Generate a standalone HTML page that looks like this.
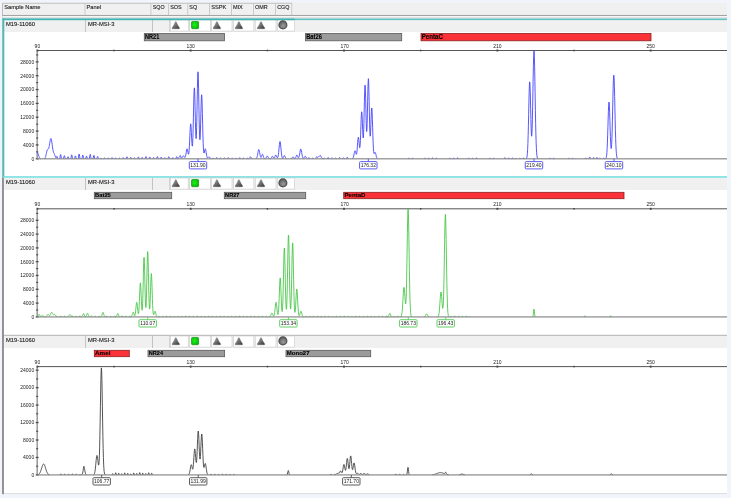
<!DOCTYPE html>
<html><head><meta charset="utf-8"><title>Electropherogram</title>
<style>html,body{margin:0;padding:0;background:#f1f4fa;}svg{display:block;filter:blur(0.35px)}</style></head>
<body>
<svg width="731" height="498" viewBox="0 0 731 498">
<defs>
<linearGradient id="tg" x1="0.1" y1="0.1" x2="0.9" y2="1"><stop offset="0" stop-color="#a2a2a2"/><stop offset="0.45" stop-color="#727272"/><stop offset="1" stop-color="#383838"/></linearGradient>
<radialGradient id="gg" cx="0.42" cy="0.45" r="0.75"><stop offset="0" stop-color="#22f022"/><stop offset="0.55" stop-color="#0ccc0c"/><stop offset="1" stop-color="#0a9e0a"/></radialGradient>
<radialGradient id="cg" cx="0.55" cy="0.62" r="0.65"><stop offset="0" stop-color="#9c9c9c"/><stop offset="0.7" stop-color="#6a6a6a"/><stop offset="1" stop-color="#4a4a4a"/></radialGradient>
</defs>
<rect width="731" height="498" fill="#f1f4fa"/>
<rect x="2.5" y="3" width="724.5" height="490.5" fill="#fff"/>
<rect x="2.5" y="3" width="724.5" height="11.6" fill="#f0f0f0"/>
<rect x="2.5" y="2.8" width="289.5" height="0.8" fill="#b4b4b4"/>
<rect x="2.2" y="3" width="0.8" height="490" fill="#b0b0b0"/>
<rect x="2.5" y="14.9" width="724.5" height="1.1" fill="#909090"/>
<rect x="2.5" y="15.8" width="724.5" height="2.6" fill="#f6f6f6"/>
<rect x="84.6" y="3.4" width="0.8" height="11.5" fill="#c0c0c0"/>
<rect x="150.5" y="3.4" width="0.8" height="11.5" fill="#c0c0c0"/>
<rect x="168.0" y="3.4" width="0.8" height="11.5" fill="#c0c0c0"/>
<rect x="187.4" y="3.4" width="0.8" height="11.5" fill="#c0c0c0"/>
<rect x="209.2" y="3.4" width="0.8" height="11.5" fill="#c0c0c0"/>
<rect x="231.0" y="3.4" width="0.8" height="11.5" fill="#c0c0c0"/>
<rect x="253.1" y="3.4" width="0.8" height="11.5" fill="#c0c0c0"/>
<rect x="275.0" y="3.4" width="0.8" height="11.5" fill="#c0c0c0"/>
<rect x="291.40000000000003" y="3.4" width="0.8" height="11.5" fill="#c0c0c0"/>
<text x="4.3" y="9.2" font-family="Liberation Sans, Arial, sans-serif" font-size="5.8" fill="#222" stroke="#222" stroke-width="0.12" textLength="36.2" lengthAdjust="spacingAndGlyphs">Sample Name</text>
<text x="86.5" y="9.2" font-family="Liberation Sans, Arial, sans-serif" font-size="5.8" fill="#222" stroke="#222" stroke-width="0.12" textLength="14.6" lengthAdjust="spacingAndGlyphs">Panel</text>
<text x="152.7" y="9.2" font-family="Liberation Sans, Arial, sans-serif" font-size="5.8" fill="#222" stroke="#222" stroke-width="0.12" textLength="11.9" lengthAdjust="spacingAndGlyphs">SQO</text>
<text x="170.2" y="9.2" font-family="Liberation Sans, Arial, sans-serif" font-size="5.8" fill="#222" stroke="#222" stroke-width="0.12" textLength="11.6" lengthAdjust="spacingAndGlyphs">SOS</text>
<text x="189.3" y="9.2" font-family="Liberation Sans, Arial, sans-serif" font-size="5.8" fill="#222" stroke="#222" stroke-width="0.12" textLength="7.8" lengthAdjust="spacingAndGlyphs">SQ</text>
<text x="211.2" y="9.2" font-family="Liberation Sans, Arial, sans-serif" font-size="5.8" fill="#222" stroke="#222" stroke-width="0.12" textLength="15.2" lengthAdjust="spacingAndGlyphs">SSPK</text>
<text x="232.9" y="9.2" font-family="Liberation Sans, Arial, sans-serif" font-size="5.8" fill="#222" stroke="#222" stroke-width="0.12" textLength="9.8" lengthAdjust="spacingAndGlyphs">MIX</text>
<text x="255.1" y="9.2" font-family="Liberation Sans, Arial, sans-serif" font-size="5.8" fill="#222" stroke="#222" stroke-width="0.12" textLength="12.7" lengthAdjust="spacingAndGlyphs">OMR</text>
<text x="277.2" y="9.2" font-family="Liberation Sans, Arial, sans-serif" font-size="5.8" fill="#222" stroke="#222" stroke-width="0.12" textLength="12.3" lengthAdjust="spacingAndGlyphs">CGQ</text>
<rect x="4" y="20" width="723.0" height="12" fill="#f0f0f0"/><text x="6" y="25.6" font-family="Liberation Sans, Arial, sans-serif" font-size="5.8" fill="#222" stroke="#222" stroke-width="0.12">M19-11060</text><text x="88" y="25.6" font-family="Liberation Sans, Arial, sans-serif" font-size="5.8" fill="#222" stroke="#222" stroke-width="0.12">MR-MSI-3</text><rect x="85.1" y="20" width="0.8" height="12" fill="#b8b8b8"/><rect x="152.0" y="20" width="0.8" height="12" fill="#b8b8b8"/><rect x="169.4" y="20" width="0.8" height="12" fill="#c4c4c4"/><rect x="170.4" y="20" width="17.8" height="11.1" fill="#fff" stroke="#c8c8c8" stroke-width="0.6"/><rect x="189.6" y="20" width="20.7" height="11.1" fill="#fff" stroke="#c8c8c8" stroke-width="0.6"/><rect x="211.5" y="20" width="20.5" height="11.1" fill="#fff" stroke="#c8c8c8" stroke-width="0.6"/><rect x="233.7" y="20" width="20.2" height="11.1" fill="#fff" stroke="#c8c8c8" stroke-width="0.6"/><rect x="255.2" y="20" width="20.8" height="11.1" fill="#fff" stroke="#c8c8c8" stroke-width="0.6"/><rect x="277.4" y="20" width="17.3" height="11.1" fill="#fff" stroke="#c8c8c8" stroke-width="0.6"/><path d="M175.35000000000002,21.900000000000002 Q175.8,21.25 176.25,21.900000000000002 Q177.70000000000002,25.6 179.55,28.0 Q179.75,28.8 178.9,28.8 L172.70000000000002,28.8 Q171.85000000000002,28.8 172.05,28.0 Q173.9,25.6 175.35000000000002,21.900000000000002 Z" fill="url(#tg)" stroke="#4c4c4c" stroke-width="0.35"/><rect x="191.55" y="21.45" width="7.0" height="7.25" rx="0.9" fill="url(#gg)" stroke="#1a9a1a" stroke-width="0.8"/><path d="M216.45000000000002,21.900000000000002 Q216.9,21.25 217.35,21.900000000000002 Q218.8,25.6 220.65,28.0 Q220.85,28.8 220.0,28.8 L213.8,28.8 Q212.95000000000002,28.8 213.15,28.0 Q215.0,25.6 216.45000000000002,21.900000000000002 Z" fill="url(#tg)" stroke="#4c4c4c" stroke-width="0.35"/><path d="M238.45000000000002,21.900000000000002 Q238.9,21.25 239.35,21.900000000000002 Q240.8,25.6 242.65,28.0 Q242.85,28.8 242.0,28.8 L235.8,28.8 Q234.95000000000002,28.8 235.15,28.0 Q237.0,25.6 238.45000000000002,21.900000000000002 Z" fill="url(#tg)" stroke="#4c4c4c" stroke-width="0.35"/><path d="M260.55,21.900000000000002 Q261.0,21.25 261.45,21.900000000000002 Q262.9,25.6 264.75,28.0 Q264.95,28.8 264.1,28.8 L257.9,28.8 Q257.05,28.8 257.25,28.0 Q259.1,25.6 260.55,21.900000000000002 Z" fill="url(#tg)" stroke="#4c4c4c" stroke-width="0.35"/><circle cx="282.9" cy="24.9" r="4.0" fill="url(#cg)" stroke="#4e4e4e" stroke-width="1.1"/>
<rect x="144.3" y="33.5" width="80.1" height="7.3" fill="#9b9b9b" stroke="#5a5a5a" stroke-width="0.8"/><text x="145.1" y="39.15" font-family="Liberation Sans, Arial, sans-serif" font-size="6.79" font-weight="bold" fill="#000" stroke="#000" stroke-width="0.1" textLength="14.2" lengthAdjust="spacingAndGlyphs">NR21</text>
<rect x="305.4" y="33.5" width="96.3" height="7.3" fill="#9b9b9b" stroke="#5a5a5a" stroke-width="0.8"/><text x="306.2" y="39.15" font-family="Liberation Sans, Arial, sans-serif" font-size="6.79" font-weight="bold" fill="#000" stroke="#000" stroke-width="0.1" textLength="15.7" lengthAdjust="spacingAndGlyphs">Bat26</text>
<rect x="421.0" y="33.5" width="230.0" height="7.3" fill="#fb3238" stroke="#8e2020" stroke-width="0.8"/><text x="421.8" y="39.15" font-family="Liberation Sans, Arial, sans-serif" font-size="6.79" font-weight="bold" fill="#000" stroke="#000" stroke-width="0.1" textLength="21.0" lengthAdjust="spacingAndGlyphs">PentaC</text>
<rect x="37" y="50.0" width="690.0" height="1" fill="#555"/><rect x="36.5" y="49.5" width="1.8" height="2" fill="#444"/><text x="37.4" y="47.6" text-anchor="middle" font-family="Liberation Sans, Arial, sans-serif" font-size="5" fill="#222">90</text><rect x="189.8" y="49.5" width="1.8" height="2" fill="#444"/><text x="190.7" y="47.6" text-anchor="middle" font-family="Liberation Sans, Arial, sans-serif" font-size="5" fill="#222">130</text><rect x="343.1" y="49.5" width="1.8" height="2" fill="#444"/><text x="344.6" y="47.6" text-anchor="middle" font-family="Liberation Sans, Arial, sans-serif" font-size="5" fill="#222">170</text><rect x="496.5" y="49.5" width="1.8" height="2" fill="#444"/><text x="497.4" y="47.6" text-anchor="middle" font-family="Liberation Sans, Arial, sans-serif" font-size="5" fill="#222">210</text><rect x="649.8" y="49.5" width="1.8" height="2" fill="#444"/><text x="650.7" y="47.6" text-anchor="middle" font-family="Liberation Sans, Arial, sans-serif" font-size="5" fill="#222">250</text><rect x="113.4" y="49.7" width="1.4" height="1.6" fill="#444"/><rect x="266.7" y="49.7" width="1.4" height="1.6" fill="#444"/><rect x="420.0" y="49.7" width="1.4" height="1.6" fill="#444"/><rect x="573.3" y="49.7" width="1.4" height="1.6" fill="#444"/>
<rect x="36.65" y="50.5" width="0.95" height="108.30000000000001" fill="#5e5e5e"/><rect x="35.75" y="158.15" width="2.8" height="1.3" fill="#4a4a4a"/><text x="34.2" y="160.6" text-anchor="end" font-family="Liberation Sans, Arial, sans-serif" font-size="5" fill="#222">0</text><rect x="36.1" y="151.32" width="2.1" height="1.1" fill="#4a4a4a"/><rect x="35.75" y="144.30" width="2.8" height="1.3" fill="#4a4a4a"/><text x="34.2" y="146.8" text-anchor="end" font-family="Liberation Sans, Arial, sans-serif" font-size="5" fill="#222">4000</text><rect x="36.1" y="137.47" width="2.1" height="1.1" fill="#4a4a4a"/><rect x="35.75" y="130.45" width="2.8" height="1.3" fill="#4a4a4a"/><text x="34.2" y="132.9" text-anchor="end" font-family="Liberation Sans, Arial, sans-serif" font-size="5" fill="#222">8000</text><rect x="36.1" y="123.63" width="2.1" height="1.1" fill="#4a4a4a"/><rect x="35.75" y="116.60" width="2.8" height="1.3" fill="#4a4a4a"/><text x="34.2" y="119.1" text-anchor="end" font-family="Liberation Sans, Arial, sans-serif" font-size="5" fill="#222">12000</text><rect x="36.1" y="109.78" width="2.1" height="1.1" fill="#4a4a4a"/><rect x="35.75" y="102.75" width="2.8" height="1.3" fill="#4a4a4a"/><text x="34.2" y="105.2" text-anchor="end" font-family="Liberation Sans, Arial, sans-serif" font-size="5" fill="#222">16000</text><rect x="36.1" y="95.93" width="2.1" height="1.1" fill="#4a4a4a"/><rect x="35.75" y="88.90" width="2.8" height="1.3" fill="#4a4a4a"/><text x="34.2" y="91.4" text-anchor="end" font-family="Liberation Sans, Arial, sans-serif" font-size="5" fill="#222">20000</text><rect x="36.1" y="82.08" width="2.1" height="1.1" fill="#4a4a4a"/><rect x="35.75" y="75.05" width="2.8" height="1.3" fill="#4a4a4a"/><text x="34.2" y="77.5" text-anchor="end" font-family="Liberation Sans, Arial, sans-serif" font-size="5" fill="#222">24000</text><rect x="36.1" y="68.23" width="2.1" height="1.1" fill="#4a4a4a"/><rect x="35.75" y="61.20" width="2.8" height="1.3" fill="#4a4a4a"/><text x="34.2" y="63.7" text-anchor="end" font-family="Liberation Sans, Arial, sans-serif" font-size="5" fill="#222">28000</text><rect x="36.1" y="54.38" width="2.1" height="1.1" fill="#4a4a4a"/>
<path d="M37.40,152.12 L37.65,152.62 L37.90,153.29 L38.15,154.07 L38.40,154.88 L38.65,155.67 L38.90,156.39 L39.15,157.02 L39.40,157.53 L39.65,157.92 L39.90,158.22 L40.15,158.43 L40.40,158.57 L40.65,158.66 M44.15,158.70 L44.40,158.61 L44.65,158.45 L44.90,158.19 L45.15,157.80 L45.40,157.25 L45.65,156.51 L45.90,155.59 L46.15,154.51 L46.40,153.34 L46.65,152.18 L46.90,151.13 L47.15,150.29 L47.40,149.70 L47.65,149.36 L47.90,149.20 L48.15,149.10 L48.40,148.92 L48.65,148.52 L48.90,147.80 L49.15,146.74 L49.40,145.38 L49.65,143.81 L49.90,142.19 L50.15,140.69 L50.40,139.48 L50.65,138.69 L50.90,138.44 L51.15,138.75 L51.40,139.61 L51.65,140.93 L51.90,142.60 L52.15,144.45 L52.40,146.34 L52.65,148.10 L52.90,149.65 L53.15,150.90 L53.40,151.87 L53.65,152.61 L53.90,153.18 L54.15,153.69 L54.40,154.22 L54.65,154.79 L54.90,155.42 L55.15,156.08 L55.40,156.72 L55.65,157.30 L55.90,157.77 L56.15,157.84 L56.40,157.23 L56.65,156.60 L56.90,156.34 L57.15,156.65 L57.40,157.42 L57.65,158.34 L57.90,158.79 M59.65,158.80 L59.90,157.99 L60.15,156.36 L60.40,155.02 L60.65,154.57 L60.90,155.23 L61.15,156.69 L61.40,158.26 L61.65,158.80 M63.40,158.80 L63.65,157.96 L63.90,156.74 L64.15,155.84 L64.40,155.67 L64.65,156.31 L64.90,157.47 L65.15,158.58 L65.40,158.80 M67.15,158.75 L67.40,158.09 L67.65,157.29 L67.90,156.77 L68.15,156.77 L68.40,157.29 L68.65,158.09 L68.90,158.75 M70.65,158.80 L70.90,158.52 L71.15,157.13 L71.40,155.67 L71.65,154.86 L71.90,155.07 L72.15,156.21 L72.40,157.75 L72.65,158.80 M74.40,158.80 L74.65,158.43 L74.90,157.35 L75.15,156.34 L75.40,155.88 L75.65,156.19 L75.90,157.12 L76.15,158.24 L76.40,158.80 M78.15,158.80 L78.40,157.87 L78.65,156.03 L78.90,154.50 L79.15,153.99 L79.40,154.74 L79.65,156.40 L79.90,158.19 L80.15,158.80 M81.90,158.80 L82.15,157.81 L82.40,156.37 L82.65,155.30 L82.90,155.10 L83.15,155.86 L83.40,157.23 L83.65,158.54 L83.90,158.80 M85.65,158.73 L85.90,157.89 L86.15,156.87 L86.40,156.21 L86.65,156.21 L86.90,156.87 L87.15,157.89 L87.40,158.73 M89.15,158.80 L89.40,158.48 L89.65,156.89 L89.90,155.21 L90.15,154.29 L90.40,154.53 L90.65,155.83 L90.90,157.59 L91.15,158.80 M92.90,158.80 L93.15,158.36 L93.40,157.06 L93.65,155.85 L93.90,155.30 L94.15,155.67 L94.40,156.79 L94.65,158.13 L94.90,158.80 M96.65,158.80 L96.90,158.33 L97.15,157.40 L97.40,156.63 L97.65,156.37 L97.90,156.75 L98.15,157.59 L98.40,158.49 L98.65,158.80 M100.15,158.73 L100.40,158.54 L100.65,158.36 L100.90,158.28 L101.15,158.33 L101.40,158.50 L101.65,158.70 M103.65,158.80 L103.90,158.61 L104.15,158.23 L104.40,157.92 L104.65,157.82 L104.90,157.97 L105.15,158.31 L105.40,158.68 M107.40,158.80 L107.65,158.61 L107.90,158.33 L108.15,158.12 L108.40,158.08 L108.65,158.23 L108.90,158.50 L109.15,158.75 M111.15,158.77 L111.40,158.40 L111.65,157.95 L111.90,157.65 L112.15,157.65 L112.40,157.95 L112.65,158.40 L112.90,158.77 M114.90,158.74 L115.15,158.41 L115.40,158.07 L115.65,157.89 L115.90,157.93 L116.15,158.20 L116.40,158.56 L116.65,158.80 M118.65,158.72 L118.90,158.47 L119.15,158.24 L119.40,158.14 L119.65,158.20 L119.90,158.42 L120.15,158.67 M122.15,158.80 L122.40,158.58 L122.65,158.15 L122.90,157.79 L123.15,157.68 L123.40,157.85 L123.65,158.24 L123.90,158.66 M125.90,158.80 L126.15,158.55 L126.40,157.82 L126.65,157.11 L126.90,156.77 L127.15,156.92 L127.40,157.51 L127.65,158.28 L127.90,158.80 M129.90,158.70 L130.15,158.18 L130.40,157.63 L130.65,157.31 L130.90,157.34 L131.15,157.73 L131.40,158.30 L131.65,158.76 M133.65,158.78 L133.90,158.47 L134.15,158.10 L134.40,157.84 L134.65,157.82 L134.90,158.03 L135.15,158.39 L135.40,158.73 M137.40,158.80 L137.65,158.31 L137.90,157.59 L138.15,157.03 L138.40,156.88 L138.65,157.21 L138.90,157.87 L139.15,158.57 L139.40,158.80 M141.15,158.80 L141.40,158.54 L141.65,158.02 L141.90,157.57 L142.15,157.39 L142.40,157.57 L142.65,158.02 L142.90,158.54 L143.15,158.80 M144.90,158.80 L145.15,158.52 L145.40,157.68 L145.65,156.88 L145.90,156.49 L146.15,156.66 L146.40,157.33 L146.65,158.21 L146.90,158.80 M148.90,158.68 L149.15,158.07 L149.40,157.42 L149.65,157.03 L149.90,157.08 L150.15,157.53 L150.40,158.21 L150.65,158.76 M152.65,158.77 L152.90,158.38 L153.15,157.90 L153.40,157.57 L153.65,157.54 L153.90,157.81 L154.15,158.28 L154.40,158.71 M156.40,158.80 L156.65,158.24 L156.90,157.41 L157.15,156.77 L157.40,156.60 L157.65,156.98 L157.90,157.74 L158.15,158.53 L158.40,158.80 M160.15,158.80 L160.40,158.49 L160.65,157.86 L160.90,157.32 L161.15,157.11 L161.40,157.32 L161.65,157.86 L161.90,158.49 L162.15,158.80 M164.15,158.66 L164.40,158.24 L164.65,157.84 L164.90,157.64 L165.15,157.73 L165.40,158.06 L165.65,158.50 L165.90,158.80 M167.90,158.66 L168.15,157.96 L168.40,157.20 L168.65,156.75 L168.90,156.81 L169.15,157.34 L169.40,158.11 L169.65,158.75 M171.65,158.76 L171.90,158.28 L172.15,158.65 L172.40,158.23 L172.65,157.83 L172.90,157.65 L173.15,157.77 L173.40,158.14 L173.65,158.58 L173.90,158.80 M175.65,158.80 L175.90,158.38 L176.15,157.55 L176.40,156.86 L176.65,156.63 L176.90,156.95 L177.15,157.69 L177.40,158.46 L177.65,158.67 L177.90,158.56 L178.15,158.39 L178.40,158.15 L178.65,157.85 L178.90,157.52 L179.15,157.20 L179.40,156.95 L179.65,156.39 L179.90,155.79 L180.15,155.49 L180.40,155.67 L180.65,156.31 L180.90,157.18 L181.15,157.96 L181.40,158.17 L181.65,158.13 L181.90,157.94 L182.15,157.60 L182.40,157.16 L182.65,156.67 L182.90,156.22 L183.15,155.91 L183.40,155.80 L183.65,155.91 L183.90,156.21 L184.15,156.62 L184.40,157.05 L184.65,157.37 L184.90,157.48 L185.15,157.27 L185.40,156.68 L185.65,155.69 L185.90,154.32 L186.15,152.71 L186.40,151.08 L186.65,149.73 L186.90,148.93 L187.15,148.85 L187.40,149.49 L187.65,150.68 L187.90,152.12 L188.15,153.43 L188.40,154.22 L188.65,154.13 L188.90,152.85 L189.15,150.20 L189.40,146.14 L189.65,140.92 L189.90,135.16 L190.15,129.73 L190.40,125.68 L190.65,123.84 L190.90,124.61 L191.15,127.78 L191.40,132.61 L191.65,137.96 L191.90,142.66 L192.15,145.66 L192.40,146.13 L192.65,143.53 L192.90,137.64 L193.15,128.75 L193.40,117.74 L193.65,106.17 L193.90,96.08 L194.15,89.50 L194.40,87.87 L194.65,91.55 L194.90,99.66 L195.15,110.39 L195.40,121.50 L195.65,130.89 L195.90,136.94 L196.15,138.61 L196.40,135.48 L196.65,127.68 L196.90,116.06 L197.15,102.22 L197.40,88.51 L197.65,77.58 L197.90,71.80 L198.15,72.46 L198.40,79.43 L198.65,91.14 L198.90,105.13 L199.15,118.77 L199.40,129.89 L199.65,137.08 L199.90,139.71 L200.15,137.80 L200.40,131.91 L200.65,123.13 L200.90,113.09 L201.15,103.76 L201.40,97.15 L201.65,94.77 L201.90,97.21 L202.15,103.93 L202.40,113.52 L202.65,124.15 L202.90,134.12 L203.15,142.26 L203.40,148.06 L203.65,151.52 L203.90,153.01 L204.15,153.03 L204.40,152.13 L204.65,150.85 L204.90,149.65 L205.15,148.90 L205.40,148.85 L205.65,149.52 L205.90,150.79 L206.15,152.38 L206.40,154.03 L206.65,155.48 L206.90,156.59 L207.15,157.32 L207.40,157.69 L207.65,157.76 L207.90,157.63 L208.15,157.39 L208.40,157.11 L208.65,156.90 L208.90,156.80 L209.15,156.85 L209.40,157.03 L209.65,157.32 L209.90,157.65 L210.15,157.98 L210.40,158.25 L210.65,158.46 L210.90,158.61 L211.15,158.70 M212.15,158.71 L212.40,158.44 L212.65,158.19 L212.90,158.06 L213.15,158.11 L213.40,158.32 L213.65,158.60 L213.90,158.80 M215.90,158.75 L216.15,158.35 L216.40,157.89 L216.65,157.59 L216.90,157.57 L217.15,157.85 L217.40,158.31 L217.65,158.72 M219.65,158.80 L219.90,158.57 L220.15,158.21 L220.40,157.92 L220.65,157.83 L220.90,157.98 L221.15,158.30 L221.40,158.65 M223.65,158.71 L223.90,158.46 L224.15,158.23 L224.40,158.12 L224.65,158.17 L224.90,158.37 L225.15,158.62 M227.40,158.74 L227.65,158.36 L227.90,157.92 L228.15,157.65 L228.40,157.64 L228.65,157.92 L228.90,158.35 L229.15,158.74 M231.15,158.80 L231.40,158.57 L231.65,158.23 L231.90,157.97 L232.15,157.90 L232.40,158.04 L232.65,158.35 L232.90,158.67 M235.15,158.71 L235.40,158.49 L235.65,158.28 L235.90,158.19 L236.15,158.24 L236.40,158.42 L236.65,158.65 M238.90,158.74 L239.15,158.37 L239.40,157.96 L239.65,157.70 L239.90,157.71 L240.15,157.98 L240.40,158.39 L240.65,158.75 M242.65,158.80 L242.90,158.58 L243.15,158.26 L243.40,158.03 L243.65,157.97 L243.90,158.11 L244.15,158.39 L244.40,158.69 M246.65,158.71 L246.90,158.51 L247.15,158.33 L247.40,158.25 L247.65,158.30 L247.90,158.47 L248.15,158.67 M248.90,158.65 L249.15,158.49 L249.40,158.22 L249.65,157.84 L249.90,157.41 L250.15,157.04 L250.40,156.82 L250.65,156.85 L250.90,157.10 L251.15,157.50 L251.40,157.92 L251.65,158.28 L251.90,158.53 L252.15,158.68 M255.90,158.71 L256.15,158.61 L256.40,158.42 L256.65,158.08 L256.90,157.54 L257.15,156.74 L257.40,155.66 L257.65,154.33 L257.90,152.86 L258.15,151.44 L258.40,150.29 L258.65,149.62 L258.90,149.55 L259.15,150.11 L259.40,151.18 L259.65,152.56 L259.90,154.02 L260.15,155.35 L260.40,156.40 L260.65,157.09 L260.90,157.38 L261.15,157.28 L261.40,156.83 L261.65,156.14 L261.90,155.36 L262.15,154.69 L262.40,154.33 L262.65,154.38 L262.90,154.83 L263.15,155.56 L263.40,156.41 L263.65,157.20 L263.90,157.83 L264.15,158.26 L264.40,158.53 L264.65,158.67 M265.40,158.63 L265.65,158.46 L265.90,158.19 L266.15,157.80 L266.40,157.31 L266.65,156.79 L266.90,156.33 L267.15,156.05 L267.40,156.02 L267.65,156.26 L267.90,156.69 L268.15,157.21 L268.40,157.71 L268.65,158.13 L268.90,158.42 L269.15,158.61 L269.40,158.71 M270.40,158.69 L270.65,158.57 L270.90,158.37 L271.15,158.06 L271.40,157.66 L271.65,157.19 L271.90,156.74 L272.15,156.42 L272.40,156.30 L272.65,156.42 L272.90,156.74 L273.15,157.17 L273.40,157.61 L273.65,157.96 L273.90,158.14 L274.15,158.12 L274.40,157.87 L274.65,157.40 L274.90,156.76 L275.15,156.06 L275.40,155.44 L275.65,155.07 L275.90,155.03 L276.15,155.34 L276.40,155.92 L276.65,156.60 L276.90,157.24 L277.15,157.69 L277.40,157.87 L277.65,157.72 L277.90,157.17 L278.15,156.14 L278.40,154.57 L278.65,152.45 L278.90,149.90 L279.15,147.14 L279.40,144.55 L279.65,142.54 L279.90,141.50 L280.15,141.62 L280.40,142.88 L280.65,145.03 L280.90,147.69 L281.15,150.44 L281.40,152.92 L281.65,154.94 L281.90,156.42 L282.15,157.39 L282.40,157.94 L282.65,158.14 L282.90,158.07 L283.15,157.76 L283.40,157.26 L283.65,156.66 L283.90,156.08 L284.15,155.66 L284.40,155.50 L284.65,155.66 L284.90,156.09 L285.15,156.67 L285.40,157.29 L285.65,157.83 L285.90,158.23 L286.15,158.50 L286.40,158.66 M291.15,158.66 L291.40,158.53 L291.65,158.32 L291.90,158.02 L292.15,157.66 L292.40,157.29 L292.65,156.98 L292.90,156.82 L293.15,156.83 L293.40,157.03 L293.65,157.36 L293.90,157.73 L294.15,158.08 L294.40,158.34 L294.65,158.49 L294.90,158.51 L295.15,158.40 L295.40,158.12 L295.65,157.67 L295.90,157.06 L296.15,156.35 L296.40,155.67 L296.65,155.18 L296.90,155.00 L297.15,155.17 L297.40,155.66 L297.65,156.31 L297.90,156.97 L298.15,157.48 L298.40,157.74 L298.65,157.70 L298.90,157.31 L299.15,156.56 L299.40,155.46 L299.65,154.08 L299.90,152.54 L300.15,151.04 L300.40,149.83 L300.65,149.12 L300.90,149.05 L301.15,149.64 L301.40,150.77 L301.65,152.23 L301.90,153.79 L302.15,155.23 L302.40,156.42 L302.65,157.31 L302.90,157.91 L303.15,158.25 L303.40,158.37 L303.65,158.31 L303.90,158.08 L304.15,157.72 L304.40,157.28 L304.65,156.82 L304.90,156.47 L305.15,156.30 L305.40,156.38 L305.65,156.67 L305.90,157.10 L306.15,157.56 L306.40,157.99 L306.65,158.32 L306.90,158.54 L307.15,158.67 M308.15,158.65 L308.40,158.23 L308.65,157.81 L308.90,157.60 L309.15,157.68 L309.40,158.02 L309.65,158.47 L309.90,158.80 M311.90,158.77 L312.15,158.50 L312.40,158.18 L312.65,157.97 L312.90,157.96 L313.15,158.15 L313.40,158.46 L313.65,158.74 M315.65,158.63 L315.90,158.21 L316.15,157.57 L316.40,157.02 L316.65,156.74 L316.90,156.79 L317.15,157.08 L317.40,157.39 L317.65,157.37 L317.90,157.12 L318.15,156.88 L318.40,156.66 L318.65,156.47 L318.90,156.32 L319.15,156.23 L319.40,156.20 L319.65,156.08 L319.90,155.77 L320.15,155.54 L320.40,155.54 L320.65,155.85 L320.90,156.41 L321.15,157.08 L321.40,157.61 L321.65,157.83 L321.90,158.03 L322.15,158.21 L322.40,158.35 L322.65,158.47 L322.90,158.56 L323.15,158.63 L323.40,158.65 L323.65,158.44 L323.90,158.18 L324.15,158.01 L324.40,158.02 L324.65,158.21 L324.90,158.50 L325.15,158.76 M327.15,158.80 L327.40,158.45 L327.65,157.93 L327.90,157.53 L328.15,157.41 L328.40,157.64 L328.65,158.10 L328.90,158.61 L329.15,158.80 M331.15,158.65 L331.40,158.27 L331.65,157.92 L331.90,157.76 L332.15,157.85 L332.40,158.15 L332.65,158.54 L332.90,158.80 M334.90,158.76 L335.15,158.53 L335.40,158.28 L335.65,158.12 L335.90,158.12 L336.15,158.29 L336.40,158.55 L336.65,158.77 M338.65,158.80 L338.90,158.45 L339.15,157.96 L339.40,157.59 L339.65,157.49 L339.90,157.72 L340.15,158.16 L340.40,158.63 M342.65,158.65 L342.90,158.30 L343.15,157.98 L343.40,157.83 L343.65,157.93 L343.90,158.22 L344.15,158.58 L344.40,158.80 M346.40,158.70 L346.65,158.17 L346.90,157.60 L347.15,157.26 L347.40,157.28 L347.65,157.67 L347.90,158.25 L348.15,158.75 M352.40,158.68 L352.65,158.54 L352.90,158.27 L353.15,157.83 L353.40,157.15 L353.65,156.20 L353.90,155.01 L354.15,153.68 L354.40,152.39 L354.65,151.38 L354.90,150.84 L355.15,150.87 L355.40,151.45 L355.65,152.40 L355.90,153.42 L356.15,154.17 L356.40,154.35 L356.65,153.68 L356.90,152.04 L357.15,149.46 L357.40,146.20 L357.65,142.73 L357.90,139.69 L358.15,137.69 L358.40,137.17 L358.65,138.21 L358.90,140.51 L359.15,143.40 L359.40,146.07 L359.65,147.68 L359.90,147.54 L360.15,145.21 L360.40,140.63 L360.65,134.18 L360.90,126.75 L361.15,119.63 L361.40,114.25 L361.65,111.79 L361.90,112.78 L362.15,116.91 L362.40,123.10 L362.65,129.76 L362.90,135.21 L363.15,137.99 L363.40,137.12 L363.65,132.24 L363.90,123.72 L364.15,112.76 L364.40,101.26 L364.65,91.53 L364.90,85.69 L365.15,85.11 L365.40,89.87 L365.65,98.79 L365.90,109.74 L366.15,120.22 L366.40,128.00 L366.65,131.48 L366.90,129.90 L367.15,123.44 L367.40,113.20 L367.65,101.13 L367.90,89.74 L368.15,81.61 L368.40,78.68 L368.65,81.67 L368.90,89.89 L369.15,101.48 L369.40,113.96 L369.65,124.95 L369.90,132.69 L370.15,136.22 L370.40,135.47 L370.65,131.12 L370.90,124.46 L371.15,117.21 L371.40,111.20 L371.65,107.99 L371.90,108.45 L372.15,112.55 L372.40,119.43 L372.65,127.71 L372.90,135.93 L373.15,142.98 L373.40,148.23 L373.65,151.56 L373.90,153.23 L374.15,153.68 L374.40,153.40 L374.65,152.87 L374.90,152.44 L375.15,152.37 L375.40,152.73 L375.65,153.49 L375.90,154.49 L376.15,155.56 L376.40,156.55 L376.65,157.35 L376.90,157.93 L377.15,158.32 L377.40,158.56 L377.65,158.68 M408.15,158.70 L408.40,158.40 L408.65,158.12 L408.90,157.97 L409.15,158.04 L409.40,158.28 L409.65,158.59 L409.90,158.80 M411.90,158.76 L412.15,158.56 L412.40,158.34 L412.65,158.21 L412.90,158.23 L413.15,158.80 M424.15,158.70 L424.40,158.39 L424.65,158.10 L424.90,157.95 L425.15,158.02 L425.40,158.26 L425.65,158.58 L425.90,158.80 M427.90,158.76 L428.15,158.56 L428.40,158.35 L428.65,158.22 L428.90,158.24 L429.15,158.39 L429.40,158.61 L429.65,158.79 M431.65,158.78 L431.90,158.45 L432.15,158.06 L432.40,157.80 L432.65,157.77 L432.90,157.99 L433.15,158.37 L433.40,158.73 M435.40,158.80 L435.65,158.60 L435.90,158.30 L436.15,158.07 L436.40,158.01 L436.65,158.15 L436.90,158.42 L437.15,158.70 M449.15,158.70 L449.40,158.39 L449.65,158.09 L449.90,157.95 L450.15,158.01 L450.40,158.26 L450.65,158.58 L450.90,158.80 M452.90,158.76 L453.15,158.56 L453.40,158.34 L453.65,158.21 L453.90,158.23 L454.15,158.38 L454.40,158.60 L454.65,158.79 M456.65,158.77 L456.90,158.45 L457.15,158.06 L457.40,157.79 L457.65,157.76 L457.90,157.99 L458.15,158.37 L458.40,158.73 M468.15,158.71 L468.40,158.45 L468.65,158.21 L468.90,158.09 L469.15,158.14 L469.40,158.35 L469.65,158.62 L469.90,158.80 M471.90,158.77 L472.15,158.60 L472.40,158.43 L472.65,158.32 L472.90,158.34 L473.15,158.46 L473.40,158.64 M475.65,158.78 L475.90,158.51 L476.15,158.17 L476.40,157.95 L476.65,157.92 L476.90,158.11 L477.15,158.44 L477.40,158.74 M489.15,158.70 L489.40,158.42 L489.65,158.15 L489.90,158.01 L490.15,158.07 L490.40,158.30 L490.65,158.60 L490.90,158.80 M492.90,158.76 L493.15,158.56 L493.40,158.35 L493.65,158.22 L493.90,158.24 L494.15,158.80 M504.15,158.66 L504.40,158.24 L504.65,157.84 L504.90,157.64 L505.15,157.73 L505.40,158.07 L505.65,158.50 L505.90,158.80 M507.90,158.74 L508.15,158.43 L508.40,158.11 L508.65,157.92 L508.90,157.94 L509.15,158.17 L509.40,158.50 L509.65,158.78 M511.65,158.78 L511.90,158.59 L512.15,158.35 L512.40,158.19 L512.65,158.17 L512.90,158.31 L513.15,158.54 L513.40,158.76 M515.40,158.80 L515.65,158.52 L515.90,158.10 L516.15,158.80 M519.15,158.74 L519.40,158.55 L519.65,158.37 L519.90,158.28 L520.15,158.32 L520.40,158.47 L520.65,158.67 M522.90,158.74 L523.15,158.42 L523.40,158.08 L523.65,157.88 L523.90,157.91 L524.15,158.80 M526.15,158.66 L526.40,158.47 L526.65,158.06 L526.90,157.27 L527.15,155.82 L527.40,153.33 L527.65,149.38 L527.90,143.56 L528.15,135.64 L528.40,125.72 L528.65,114.43 L528.90,102.88 L529.15,92.60 L529.40,85.17 L529.65,81.85 L529.90,83.22 L530.15,88.98 L530.40,98.02 L530.65,108.71 L530.90,119.28 L531.15,128.11 L531.40,134.01 L531.65,136.23 L531.90,134.43 L532.15,128.62 L532.40,119.15 L532.65,106.76 L532.90,92.59 L533.15,78.18 L533.40,65.30 L533.65,55.72 L533.90,50.84 L534.15,51.40 L534.40,57.33 L534.65,67.76 L534.90,81.23 L535.15,96.04 L535.40,110.57 L535.65,123.61 L535.90,134.41 L536.15,142.75 L536.40,148.77 L536.65,152.85 L536.90,155.44 L537.15,157.00 L537.40,157.89 L537.65,158.36 L537.90,158.60 L538.15,158.71 M549.15,158.70 L549.40,158.42 L549.65,158.15 L549.90,158.01 L550.15,158.07 L550.40,158.30 L550.65,158.60 L550.90,158.80 M552.90,158.76 L553.15,158.57 L553.40,158.37 L553.65,158.25 L553.90,158.27 L554.15,158.41 L554.40,158.62 L554.65,158.79 M568.15,158.71 L568.40,158.44 L568.65,158.19 L568.90,158.06 L569.15,158.12 L569.40,158.33 L569.65,158.61 L569.90,158.80 M571.90,158.77 L572.15,158.59 L572.40,158.41 L572.65,158.30 L572.90,158.31 L573.15,158.44 L573.40,158.63 M575.65,158.78 L575.90,158.50 L576.15,158.80 M585.15,158.69 L585.40,158.35 L585.65,158.03 L585.90,157.87 L586.15,157.94 L586.40,158.21 L586.65,158.56 L586.90,158.80 M588.90,158.68 L589.15,158.09 L589.40,157.46 L589.65,157.08 L589.90,157.13 L590.15,157.57 L590.40,158.23 L590.65,158.76 M592.65,158.77 L592.90,158.38 L593.15,157.90 L593.40,157.57 L593.65,157.54 L593.90,157.81 L594.15,158.28 L594.40,158.71 M596.40,158.80 L596.65,158.26 L596.90,157.47 L597.15,158.80 M599.15,158.70 L599.40,158.41 L599.65,158.14 L599.90,158.00 L600.15,158.06 L600.40,158.29 L600.65,158.60 L600.90,158.80 M602.90,158.76 L603.15,158.57 L603.40,158.36 L603.65,158.24 L603.90,158.25 L604.15,158.40 L604.40,158.61 L604.65,158.78 M605.40,158.71 L605.65,158.59 L605.90,158.33 L606.15,157.82 L606.40,156.86 L606.65,155.20 L606.90,152.52 L607.15,148.50 L607.40,142.95 L607.65,135.88 L607.90,127.67 L608.15,119.08 L608.40,111.19 L608.65,105.19 L608.90,102.08 L609.15,102.43 L609.40,106.15 L609.65,112.59 L609.90,120.63 L610.15,129.03 L610.40,136.70 L610.65,142.80 L610.90,146.82 L611.15,148.54 L611.40,147.83 L611.65,144.66 L611.90,139.05 L612.15,131.13 L612.40,121.25 L612.65,110.09 L612.90,98.67 L613.15,88.25 L613.40,80.17 L613.65,75.58 L613.90,75.15 L614.15,78.95 L614.40,86.41 L614.65,96.48 L614.90,107.85 L615.15,119.24 L615.40,129.64 L615.65,138.38 L615.90,145.22 L616.15,150.23 L616.40,153.66 L616.65,155.87 L616.90,157.22 L617.15,157.99 L617.40,158.40 L617.65,158.62 L617.90,158.72" fill="none" stroke="#4444ff" stroke-width="0.9" stroke-linejoin="round"/>
<rect x="37" y="158.25" width="690.0" height="1.15" fill="#858585"/>
<rect x="197.5" y="158.8" width="1" height="3" fill="#5c5cf0"/><rect x="189.3" y="161.6" width="17.4" height="7.3" rx="0.9" fill="#fff" stroke="#5c5cf0" stroke-width="1.0"/><text x="198.0" y="167.1" text-anchor="middle" font-family="Liberation Sans, Arial, sans-serif" font-size="5" fill="#222">131.90</text>
<rect x="367.8" y="158.8" width="1" height="3" fill="#5c5cf0"/><rect x="359.6" y="161.6" width="17.4" height="7.3" rx="0.9" fill="#fff" stroke="#5c5cf0" stroke-width="1.0"/><text x="368.3" y="167.1" text-anchor="middle" font-family="Liberation Sans, Arial, sans-serif" font-size="5" fill="#222">176.32</text>
<rect x="533.5" y="158.8" width="1" height="3" fill="#5c5cf0"/><rect x="525.3" y="161.6" width="17.4" height="7.3" rx="0.9" fill="#fff" stroke="#5c5cf0" stroke-width="1.0"/><text x="534.0" y="167.1" text-anchor="middle" font-family="Liberation Sans, Arial, sans-serif" font-size="5" fill="#222">219.40</text>
<rect x="613.5" y="158.8" width="1" height="3" fill="#5c5cf0"/><rect x="605.3" y="161.6" width="17.4" height="7.3" rx="0.9" fill="#fff" stroke="#5c5cf0" stroke-width="1.0"/><text x="614.0" y="167.1" text-anchor="middle" font-family="Liberation Sans, Arial, sans-serif" font-size="5" fill="#222">240.10</text>
<rect x="2.6" y="17.6" width="724.4" height="0.9" fill="#c4c8c8"/>
<rect x="2.6" y="18.6" width="724.4" height="1.5" fill="#5cc4c4"/>
<rect x="2.6" y="18.6" width="292" height="1.5" fill="#40b4b4"/>
<rect x="2.6" y="18.5" width="1.7" height="159" fill="#48bcbc"/>
<rect x="2.6" y="176.25" width="724.4" height="1.45" fill="#68dcdc"/>
<rect x="2.2" y="177.8" width="1.65" height="316.4" fill="#858585"/>
<rect x="4" y="178" width="723.0" height="12" fill="#f0f0f0"/><text x="6" y="183.6" font-family="Liberation Sans, Arial, sans-serif" font-size="5.8" fill="#222" stroke="#222" stroke-width="0.12">M19-11060</text><text x="88" y="183.6" font-family="Liberation Sans, Arial, sans-serif" font-size="5.8" fill="#222" stroke="#222" stroke-width="0.12">MR-MSI-3</text><rect x="85.1" y="178" width="0.8" height="12" fill="#b8b8b8"/><rect x="152.0" y="178" width="0.8" height="12" fill="#b8b8b8"/><rect x="169.4" y="178" width="0.8" height="12" fill="#c4c4c4"/><rect x="170.4" y="178" width="17.8" height="11.1" fill="#fff" stroke="#c8c8c8" stroke-width="0.6"/><rect x="189.6" y="178" width="20.7" height="11.1" fill="#fff" stroke="#c8c8c8" stroke-width="0.6"/><rect x="211.5" y="178" width="20.5" height="11.1" fill="#fff" stroke="#c8c8c8" stroke-width="0.6"/><rect x="233.7" y="178" width="20.2" height="11.1" fill="#fff" stroke="#c8c8c8" stroke-width="0.6"/><rect x="255.2" y="178" width="20.8" height="11.1" fill="#fff" stroke="#c8c8c8" stroke-width="0.6"/><rect x="277.4" y="178" width="17.3" height="11.1" fill="#fff" stroke="#c8c8c8" stroke-width="0.6"/><path d="M175.35000000000002,179.9 Q175.8,179.25 176.25,179.9 Q177.70000000000002,183.6 179.55,186.0 Q179.75,186.8 178.9,186.8 L172.70000000000002,186.8 Q171.85000000000002,186.8 172.05,186.0 Q173.9,183.6 175.35000000000002,179.9 Z" fill="url(#tg)" stroke="#4c4c4c" stroke-width="0.35"/><rect x="191.55" y="179.45000000000002" width="7.0" height="7.25" rx="0.9" fill="url(#gg)" stroke="#1a9a1a" stroke-width="0.8"/><path d="M216.45000000000002,179.9 Q216.9,179.25 217.35,179.9 Q218.8,183.6 220.65,186.0 Q220.85,186.8 220.0,186.8 L213.8,186.8 Q212.95000000000002,186.8 213.15,186.0 Q215.0,183.6 216.45000000000002,179.9 Z" fill="url(#tg)" stroke="#4c4c4c" stroke-width="0.35"/><path d="M238.45000000000002,179.9 Q238.9,179.25 239.35,179.9 Q240.8,183.6 242.65,186.0 Q242.85,186.8 242.0,186.8 L235.8,186.8 Q234.95000000000002,186.8 235.15,186.0 Q237.0,183.6 238.45000000000002,179.9 Z" fill="url(#tg)" stroke="#4c4c4c" stroke-width="0.35"/><path d="M260.55,179.9 Q261.0,179.25 261.45,179.9 Q262.9,183.6 264.75,186.0 Q264.95,186.8 264.1,186.8 L257.9,186.8 Q257.05,186.8 257.25,186.0 Q259.1,183.6 260.55,179.9 Z" fill="url(#tg)" stroke="#4c4c4c" stroke-width="0.35"/><circle cx="282.9" cy="182.9" r="4.0" fill="url(#cg)" stroke="#4e4e4e" stroke-width="1.1"/>
<rect x="94.3" y="192.3" width="77.4" height="6.4" fill="#9b9b9b" stroke="#5a5a5a" stroke-width="0.8"/><text x="95.1" y="197.35" font-family="Liberation Sans, Arial, sans-serif" font-size="5.95" font-weight="bold" fill="#000" stroke="#000" stroke-width="0.1" textLength="15.7" lengthAdjust="spacingAndGlyphs">Bat25</text>
<rect x="224.3" y="192.3" width="81.4" height="6.4" fill="#9b9b9b" stroke="#5a5a5a" stroke-width="0.8"/><text x="225.1" y="197.35" font-family="Liberation Sans, Arial, sans-serif" font-size="5.95" font-weight="bold" fill="#000" stroke="#000" stroke-width="0.1" textLength="14.3" lengthAdjust="spacingAndGlyphs">NR27</text>
<rect x="343.7" y="192.3" width="280.3" height="6.4" fill="#fb3238" stroke="#8e2020" stroke-width="0.8"/><text x="344.5" y="197.35" font-family="Liberation Sans, Arial, sans-serif" font-size="5.95" font-weight="bold" fill="#000" stroke="#000" stroke-width="0.1" textLength="21.0" lengthAdjust="spacingAndGlyphs">PentaD</text>
<rect x="37" y="208.3" width="690.0" height="1" fill="#555"/><rect x="36.5" y="207.8" width="1.8" height="2" fill="#444"/><text x="37.4" y="205.9" text-anchor="middle" font-family="Liberation Sans, Arial, sans-serif" font-size="5" fill="#222">90</text><rect x="189.8" y="207.8" width="1.8" height="2" fill="#444"/><text x="190.7" y="205.9" text-anchor="middle" font-family="Liberation Sans, Arial, sans-serif" font-size="5" fill="#222">130</text><rect x="343.1" y="207.8" width="1.8" height="2" fill="#444"/><text x="344.6" y="205.9" text-anchor="middle" font-family="Liberation Sans, Arial, sans-serif" font-size="5" fill="#222">170</text><rect x="496.5" y="207.8" width="1.8" height="2" fill="#444"/><text x="497.4" y="205.9" text-anchor="middle" font-family="Liberation Sans, Arial, sans-serif" font-size="5" fill="#222">210</text><rect x="649.8" y="207.8" width="1.8" height="2" fill="#444"/><text x="650.7" y="205.9" text-anchor="middle" font-family="Liberation Sans, Arial, sans-serif" font-size="5" fill="#222">250</text><rect x="113.4" y="208.0" width="1.4" height="1.6" fill="#444"/><rect x="266.7" y="208.0" width="1.4" height="1.6" fill="#444"/><rect x="420.0" y="208.0" width="1.4" height="1.6" fill="#444"/><rect x="573.3" y="208.0" width="1.4" height="1.6" fill="#444"/>
<rect x="36.65" y="208.8" width="0.95" height="108.09999999999997" fill="#5e5e5e"/><rect x="35.75" y="316.25" width="2.8" height="1.3" fill="#4a4a4a"/><text x="34.2" y="318.7" text-anchor="end" font-family="Liberation Sans, Arial, sans-serif" font-size="5" fill="#222">0</text><rect x="36.1" y="309.45" width="2.1" height="1.1" fill="#4a4a4a"/><rect x="35.75" y="302.45" width="2.8" height="1.3" fill="#4a4a4a"/><text x="34.2" y="304.9" text-anchor="end" font-family="Liberation Sans, Arial, sans-serif" font-size="5" fill="#222">4000</text><rect x="36.1" y="295.65" width="2.1" height="1.1" fill="#4a4a4a"/><rect x="35.75" y="288.65" width="2.8" height="1.3" fill="#4a4a4a"/><text x="34.2" y="291.1" text-anchor="end" font-family="Liberation Sans, Arial, sans-serif" font-size="5" fill="#222">8000</text><rect x="36.1" y="281.85" width="2.1" height="1.1" fill="#4a4a4a"/><rect x="35.75" y="274.85" width="2.8" height="1.3" fill="#4a4a4a"/><text x="34.2" y="277.3" text-anchor="end" font-family="Liberation Sans, Arial, sans-serif" font-size="5" fill="#222">12000</text><rect x="36.1" y="268.05" width="2.1" height="1.1" fill="#4a4a4a"/><rect x="35.75" y="261.05" width="2.8" height="1.3" fill="#4a4a4a"/><text x="34.2" y="263.5" text-anchor="end" font-family="Liberation Sans, Arial, sans-serif" font-size="5" fill="#222">16000</text><rect x="36.1" y="254.25" width="2.1" height="1.1" fill="#4a4a4a"/><rect x="35.75" y="247.25" width="2.8" height="1.3" fill="#4a4a4a"/><text x="34.2" y="249.7" text-anchor="end" font-family="Liberation Sans, Arial, sans-serif" font-size="5" fill="#222">20000</text><rect x="36.1" y="240.45" width="2.1" height="1.1" fill="#4a4a4a"/><rect x="35.75" y="233.45" width="2.8" height="1.3" fill="#4a4a4a"/><text x="34.2" y="235.9" text-anchor="end" font-family="Liberation Sans, Arial, sans-serif" font-size="5" fill="#222">24000</text><rect x="36.1" y="226.65" width="2.1" height="1.1" fill="#4a4a4a"/><rect x="35.75" y="219.65" width="2.8" height="1.3" fill="#4a4a4a"/><text x="34.2" y="222.1" text-anchor="end" font-family="Liberation Sans, Arial, sans-serif" font-size="5" fill="#222">28000</text><rect x="36.1" y="212.85" width="2.1" height="1.1" fill="#4a4a4a"/>
<path d="M37.40,316.56 L37.65,316.30 L37.90,315.93 L38.15,315.48 L38.40,315.01 L38.65,314.63 L38.90,314.42 L39.15,314.44 L39.40,314.69 L39.65,315.10 L39.90,315.56 L40.15,315.99 L40.40,316.31 L40.65,316.50 L40.90,316.55 L41.15,316.47 L41.40,316.29 L41.65,316.04 L41.90,315.76 L42.15,315.54 L42.40,315.41 L42.65,315.43 L42.90,315.58 L43.15,315.82 L43.40,316.10 L43.65,316.37 L43.90,316.58 L44.15,316.72 L44.40,316.81 M45.65,316.74 L45.90,316.62 L46.15,316.45 L46.40,316.20 L46.65,315.89 L46.90,315.53 L47.15,315.16 L47.40,314.81 L47.65,314.55 L47.90,314.41 L48.15,314.42 L48.40,314.57 L48.65,314.83 L48.90,315.14 L49.15,315.44 L49.40,315.64 L49.65,315.71 L49.90,315.60 L50.15,315.30 L50.40,314.83 L50.65,314.23 L50.90,313.59 L51.15,313.01 L51.40,312.58 L51.65,312.39 L51.90,312.45 L52.15,312.75 L52.40,313.21 L52.65,313.73 L52.90,314.19 L53.15,314.52 L53.40,314.65 L53.65,314.63 L53.90,314.50 L54.15,314.36 L54.40,314.30 L54.65,314.38 L54.90,314.61 L55.15,314.96 L55.40,315.38 L55.65,315.79 L55.90,316.15 L56.15,316.37 L56.40,316.36 L56.65,316.29 L56.90,316.26 L57.15,316.34 L57.40,316.52 L57.65,316.74 M59.90,316.86 L60.15,316.53 L60.40,316.16 L60.65,315.91 L60.90,315.90 L61.15,316.12 L61.40,316.50 L61.65,316.84 M63.65,316.90 L63.90,316.72 L64.15,316.43 L64.40,316.20 L64.65,316.13 L64.90,316.25 L65.15,316.50 L65.40,316.78 M67.65,316.80 L67.90,316.57 L68.15,316.30 L68.40,316.05 L68.65,315.83 L68.90,315.61 L69.15,315.35 L69.40,315.01 L69.65,314.63 L69.90,314.42 L70.15,314.44 L70.40,314.69 L70.65,315.10 L70.90,315.57 L71.15,316.01 L71.40,316.31 L71.65,316.24 L71.90,316.04 L72.15,315.89 L72.40,315.93 L72.65,316.17 L72.90,316.53 L73.15,316.85 M75.40,316.72 L75.65,316.46 L75.90,316.25 L76.15,316.19 L76.40,316.31 L76.65,316.55 L76.90,316.80 M79.15,316.73 L79.40,316.31 L79.65,315.92 L79.90,315.73 L80.15,315.83 L80.40,316.18 L80.65,316.61 L80.90,316.89 M81.65,316.73 L81.90,316.56 L82.15,316.30 L82.40,315.93 L82.65,315.48 L82.90,314.96 L83.15,314.28 L83.40,313.74 L83.65,313.56 L83.90,313.81 L84.15,314.44 L84.40,315.24 L84.65,315.97 L84.90,316.34 L85.15,316.56 L85.40,316.66 L85.65,316.63 L85.90,316.47 L86.15,316.17 L86.40,315.73 L86.65,315.19 L86.90,314.46 L87.15,313.76 L87.40,313.32 L87.65,313.31 L87.90,313.72 L88.15,314.43 L88.40,315.22 L88.65,315.83 L88.90,316.25 L89.15,316.54 L89.40,316.72 M90.65,316.72 L90.90,316.32 L91.15,315.95 L91.40,315.79 L91.65,315.90 L91.90,316.23 L92.15,316.64 L92.40,316.90 M94.40,316.84 L94.65,316.56 L94.90,316.25 L95.15,316.07 L95.40,316.08 L95.65,316.29 L95.90,316.60 L96.15,316.87 M98.40,316.73 L98.65,316.51 L98.90,316.35 L99.15,316.31 L99.40,316.42 L99.65,316.62 L99.90,316.82 M100.65,316.78 L100.90,316.67 L101.15,316.48 L101.40,316.18 L101.65,315.76 L101.90,315.24 L102.15,314.48 L102.40,313.53 L102.65,312.75 L102.90,312.37 L103.15,312.51 L103.40,313.11 L103.65,313.98 L103.90,314.78 L104.15,315.35 L104.40,315.86 L104.65,316.25 L104.90,316.52 L105.15,316.70 L105.40,316.80 M105.90,316.82 L106.15,316.56 L106.40,316.29 L106.65,316.12 L106.90,316.14 L107.15,316.34 L107.40,316.64 L107.65,316.88 M109.90,316.74 L110.15,316.54 L110.40,316.40 L110.65,316.37 L110.90,316.47 L111.15,316.66 L111.40,316.85 M113.40,316.90 L113.65,316.72 L113.90,316.35 L114.15,316.04 L114.40,315.91 L114.65,316.02 L114.90,316.33 L115.15,316.69 L115.40,316.89 M115.90,316.79 L116.15,316.64 L116.40,316.37 L116.65,315.93 L116.90,315.34 L117.15,314.70 L117.40,314.10 L117.65,313.59 L117.90,313.45 L118.15,313.74 L118.40,314.39 L118.65,315.20 L118.90,315.98 L119.15,316.53 L119.40,316.74 M121.15,316.88 L121.40,316.53 L121.65,316.09 L121.90,315.77 L122.15,315.72 L122.40,315.96 L122.65,316.38 L122.90,316.79 M124.90,316.90 L125.15,316.72 L125.40,316.37 L125.65,316.08 L125.90,315.97 L126.15,316.08 L126.40,316.38 L126.65,316.72 M128.90,316.83 L129.15,316.60 L129.40,316.36 L129.65,316.23 L129.90,316.27 L130.15,316.44 L130.40,316.68 L130.65,316.85 L130.90,316.81 L131.15,316.69 L131.40,316.48 L131.65,316.13 L131.90,315.60 L132.15,314.92 L132.40,314.17 L132.65,313.46 L132.90,312.65 L133.15,312.12 L133.40,312.09 L133.65,312.62 L133.90,313.57 L134.15,314.66 L134.40,315.54 L134.65,315.82 L134.90,315.57 L135.15,314.76 L135.40,313.30 L135.65,311.16 L135.90,308.53 L136.15,305.80 L136.40,303.54 L136.65,302.31 L136.90,302.45 L137.15,303.92 L137.40,306.30 L137.65,309.00 L137.90,311.41 L138.15,313.07 L138.40,313.65 L138.65,312.92 L138.90,310.64 L139.15,306.71 L139.40,301.27 L139.65,294.97 L139.90,288.93 L140.15,284.52 L140.40,282.90 L140.65,284.51 L140.90,288.91 L141.15,294.91 L141.40,301.09 L141.65,306.20 L141.90,309.42 L142.15,310.22 L142.40,308.25 L142.65,303.27 L142.90,295.29 L143.15,284.94 L143.40,273.74 L143.65,263.94 L143.90,257.94 L144.15,257.36 L144.40,262.36 L144.65,271.56 L144.90,282.64 L145.15,293.18 L145.40,301.40 L145.65,306.33 L145.90,307.56 L146.15,304.98 L146.40,298.63 L146.65,288.96 L146.90,277.13 L147.15,265.23 L147.40,255.93 L147.65,251.62 L147.90,253.51 L148.15,261.05 L148.40,272.25 L148.65,284.44 L148.90,295.27 L149.15,303.26 L149.40,307.84 L149.65,309.01 L149.90,307.01 L150.15,302.21 L150.40,295.24 L150.65,287.23 L150.90,279.83 L151.15,274.83 L151.40,273.58 L151.65,276.45 L151.90,282.63 L152.15,290.57 L152.40,298.53 L152.65,305.23 L152.90,310.08 L153.15,313.05 L153.40,314.50 L153.65,314.83 L153.90,314.42 L154.15,313.56 L154.40,312.57 L154.65,311.71 L154.90,311.24 L155.15,311.30 L155.40,311.87 L155.65,312.80 L155.90,313.87 L156.15,314.87 L156.40,315.67 L156.65,316.22 L156.90,316.56 L157.15,316.75 M158.15,316.81 L158.40,316.54 L158.65,316.27 L158.90,316.14 L159.15,316.19 L159.40,316.41 L159.65,316.69 L159.90,316.90 M161.90,316.88 L162.15,316.71 L162.40,316.52 L162.65,316.39 L162.90,316.38 L163.15,316.50 L163.40,316.69 L163.65,316.87 M165.65,316.90 L165.90,316.68 L166.15,316.32 L166.40,316.05 L166.65,315.96 L166.90,316.10 L167.15,316.42 L167.40,316.76 M169.65,316.81 L169.90,316.55 L170.15,316.31 L170.40,316.19 L170.65,316.25 L170.90,316.45 L171.15,316.72 L171.40,316.90 M173.65,316.72 L173.90,316.55 L174.15,316.44 L174.40,316.43 L174.65,316.54 L174.90,316.72 L175.15,316.88 M177.15,316.90 L177.40,316.68 L177.65,316.34 L177.90,316.09 L178.15,316.01 L178.40,316.16 L178.65,316.46 L178.90,316.78 M181.15,316.80 L181.40,316.57 L181.65,316.35 L181.90,316.24 L182.15,316.30 L182.40,316.49 L182.65,316.74 M184.90,316.84 L185.15,316.49 L185.40,316.10 L185.65,315.86 L185.90,315.87 L186.15,316.12 L186.40,316.51 L186.65,316.85 M188.65,316.90 L188.90,316.68 L189.15,316.37 L189.40,316.13 L189.65,316.07 L189.90,316.21 L190.15,316.50 L190.40,316.79 M192.65,316.81 L192.90,316.58 L193.15,316.39 L193.40,316.30 L193.65,316.35 L193.90,316.53 L194.15,316.76 M196.40,316.83 L196.65,316.49 L196.90,316.13 L197.15,315.91 L197.40,315.93 L197.65,316.17 L197.90,316.55 L198.15,316.86 M200.15,316.90 L200.40,316.68 L200.65,316.39 L200.90,316.17 L201.15,316.12 L201.40,316.26 L201.65,316.53 L201.90,316.81 M204.15,316.81 L204.40,316.60 L204.65,316.42 L204.90,316.35 L205.15,316.41 L205.40,316.57 L205.65,316.78 M207.90,316.83 L208.15,316.50 L208.40,316.16 L208.65,315.96 L208.90,315.98 L209.15,316.23 L209.40,316.58 L209.65,316.87 M211.65,316.89 L211.90,316.68 L212.15,316.41 L212.40,316.22 L212.65,316.18 L212.90,316.31 L213.15,316.57 L213.40,316.82 M215.65,316.81 L215.90,316.62 L216.15,316.46 L216.40,316.40 L216.65,316.46 L216.90,316.61 L217.15,316.80 M219.40,316.82 L219.65,316.51 L219.90,316.19 L220.15,316.01 L220.40,316.04 L220.65,316.27 L220.90,316.61 L221.15,316.88 M223.15,316.89 L223.40,316.69 L223.65,316.44 L223.90,316.26 L224.15,316.23 L224.40,316.36 L224.65,316.60 L224.90,316.84 M227.15,316.81 L227.40,316.65 L227.65,316.51 L227.90,316.45 L228.15,316.51 L228.40,316.65 L228.65,316.82 M230.90,316.82 L231.15,316.52 L231.40,316.22 L231.65,316.05 L231.90,316.09 L232.15,316.32 L232.40,316.64 L232.65,316.89 M234.65,316.89 L234.90,316.70 L235.15,316.47 L235.40,316.31 L235.65,316.29 L235.90,316.41 L236.15,316.64 L236.40,316.85 M238.40,316.90 L238.65,316.68 L238.90,316.30 L239.15,315.98 L239.40,315.87 L239.65,316.00 L239.90,316.34 L240.15,316.72 L240.40,316.90 M242.40,316.81 L242.65,316.53 L242.90,316.25 L243.15,316.10 L243.40,316.15 L243.65,316.37 L243.90,316.67 L244.15,316.89 M246.15,316.88 L246.40,316.71 L246.65,316.49 L246.90,316.35 L247.15,316.34 L247.40,316.46 L247.65,316.67 L247.90,316.86 M249.90,316.90 L250.15,316.68 L250.40,316.31 L250.65,316.02 L250.90,315.92 L251.15,316.06 L251.40,316.38 L251.65,316.74 M253.90,316.81 L254.15,316.54 L254.40,316.29 L254.65,316.15 L254.90,316.20 L255.15,316.41 L255.40,316.69 L255.65,316.90 M257.65,316.88 L257.90,316.72 L258.15,316.53 L258.40,316.40 L258.65,316.39 L258.90,316.51 L259.15,316.70 L259.40,316.87 M261.40,316.90 L261.65,316.68 L261.90,316.33 L262.15,316.06 L262.40,315.97 L262.65,316.11 L262.90,316.42 L263.15,316.76 M265.40,316.81 L265.65,316.56 L265.90,316.32 L266.15,316.21 L266.40,316.26 L266.65,316.46 L266.90,316.72 L267.15,316.90 M269.15,316.86 L269.40,316.67 L269.65,316.44 L269.90,316.20 L270.15,316.42 L270.40,316.06 L270.65,315.54 L270.90,314.90 L271.15,314.19 L271.40,313.54 L271.65,313.07 L271.90,312.90 L272.15,313.07 L272.40,313.53 L272.65,314.18 L272.90,314.88 L273.15,315.50 L273.40,315.94 L273.65,316.15 L273.90,316.05 L274.15,315.57 L274.40,314.61 L274.65,313.09 L274.90,311.01 L275.15,308.51 L275.40,305.93 L275.65,303.74 L275.90,302.43 L276.15,302.30 L276.40,303.39 L276.65,305.44 L276.90,307.96 L277.15,310.47 L277.40,312.56 L277.65,313.97 L277.90,314.52 L278.15,314.08 L278.40,312.44 L278.65,309.37 L278.90,304.74 L279.15,298.70 L279.40,291.85 L279.65,285.26 L279.90,280.25 L280.15,277.97 L280.40,278.96 L280.65,282.99 L280.90,289.10 L281.15,295.96 L281.40,302.34 L281.65,307.35 L281.90,310.54 L282.15,311.67 L282.40,310.56 L282.65,306.95 L282.90,300.54 L283.15,291.33 L283.40,279.92 L283.65,267.73 L283.90,256.92 L284.15,249.78 L284.40,248.02 L284.65,252.06 L284.90,260.92 L285.15,272.56 L285.40,284.62 L285.65,295.18 L285.90,303.05 L286.15,307.77 L286.40,309.24 L286.65,307.41 L286.90,302.12 L287.15,293.25 L287.40,281.12 L287.65,266.89 L287.90,252.66 L288.15,241.19 L288.40,235.07 L288.65,235.77 L288.90,243.13 L289.15,255.37 L289.40,269.81 L289.65,283.76 L289.90,295.28 L290.15,303.40 L290.40,307.90 L290.65,308.89 L290.90,306.48 L291.15,300.67 L291.40,291.56 L291.65,279.77 L291.90,266.73 L292.15,254.65 L292.40,246.03 L292.65,242.90 L292.90,246.03 L293.15,254.65 L293.40,266.75 L293.65,279.83 L293.90,291.72 L294.15,301.09 L294.40,307.49 L294.65,311.11 L294.90,312.37 L295.15,311.67 L295.40,309.29 L295.65,305.54 L295.90,300.87 L296.15,295.98 L296.40,291.83 L296.65,289.33 L296.90,289.09 L297.15,291.18 L297.40,295.07 L297.65,299.91 L297.90,304.77 L298.15,308.94 L298.40,312.08 L298.65,314.13 L298.90,315.27 L299.15,315.68 L299.40,315.56 L299.65,315.03 L299.90,314.21 L300.15,313.23 L300.40,312.27 L300.65,311.54 L300.90,311.21 L301.15,311.36 L301.40,311.95 L301.65,312.84 L301.90,313.85 L302.15,314.80 L302.40,315.57 L302.65,316.13 L302.90,316.49 L303.15,316.70 L303.40,316.81 M305.15,316.81 L305.40,316.53 L305.65,316.26 L305.90,316.13 L306.15,316.18 L306.40,316.40 L306.65,316.69 L306.90,316.90 M308.90,316.88 L309.15,316.71 L309.40,316.51 L309.65,316.38 L309.90,316.37 L310.15,316.49 L310.40,316.69 L310.65,316.87 M312.65,316.90 L312.90,316.67 L313.15,316.32 L313.40,316.03 L313.65,315.95 L313.90,316.09 L314.15,316.41 L314.40,316.76 M316.65,316.80 L316.90,316.54 L317.15,316.30 L317.40,316.18 L317.65,316.23 L317.90,316.44 L318.15,316.71 L318.40,316.90 M320.40,316.88 L320.65,316.72 L320.90,316.54 L321.15,316.42 L321.40,316.42 L321.65,316.53 L321.90,316.71 L322.15,316.87 M324.15,316.90 L324.40,316.67 L324.65,316.34 L324.90,316.07 L325.15,316.00 L325.40,316.15 L325.65,316.45 L325.90,316.78 M328.15,316.80 L328.40,316.56 L328.65,316.34 L328.90,316.23 L329.15,316.29 L329.40,316.49 L329.65,316.74 M332.15,316.73 L332.40,316.57 L332.65,316.47 L332.90,316.48 L333.15,316.58 L333.40,316.74 M335.65,316.90 L335.90,316.67 L336.15,316.36 L336.40,316.12 L336.65,316.06 L336.90,316.20 L337.15,316.49 L337.40,316.79 M339.65,316.80 L339.90,316.58 L340.15,316.37 L340.40,316.28 L340.65,316.34 L340.90,316.53 L341.15,316.76 M343.40,316.83 L343.65,316.49 L343.90,316.12 L344.15,315.90 L344.40,315.91 L344.65,316.17 L344.90,316.54 L345.15,316.86 M347.15,316.90 L347.40,316.68 L347.65,316.38 L347.90,316.16 L348.15,316.11 L348.40,316.25 L348.65,316.53 L348.90,316.81 M351.15,316.80 L351.40,316.60 L351.65,316.41 L351.90,316.33 L352.15,316.39 L352.40,316.57 L352.65,316.78 M354.90,316.83 L355.15,316.50 L355.40,316.15 L355.65,315.94 L355.90,315.97 L356.15,316.22 L356.40,316.58 L356.65,316.87 M358.65,316.89 L358.90,316.68 L359.15,316.40 L359.40,316.20 L359.65,316.16 L359.90,316.30 L360.15,316.56 L360.40,316.82 M362.65,316.81 L362.90,316.62 L363.15,316.45 L363.40,316.39 L363.65,316.45 L363.90,316.61 L364.15,316.80 M366.40,316.82 L366.65,316.50 L366.90,316.18 L367.15,315.99 L367.40,316.03 L367.65,316.27 L367.90,316.61 L368.15,316.88 M370.15,316.89 L370.40,316.69 L370.65,316.43 L370.90,316.25 L371.15,316.22 L371.40,316.35 L371.65,316.60 L371.90,316.84 M374.15,316.81 L374.40,316.64 L374.65,316.50 L374.90,316.44 L375.15,316.50 L375.40,316.64 L375.65,316.81 M377.90,316.82 L378.15,316.51 L378.40,316.21 L378.65,316.04 L378.90,316.08 L379.15,316.31 L379.40,316.64 L379.65,316.89 M381.65,316.89 L381.90,316.69 L382.15,316.46 L382.40,316.29 L382.65,316.27 L382.90,316.40 L383.15,316.63 L383.40,316.85 M385.40,316.90 L385.65,316.68 L385.90,316.29 L386.15,315.97 L386.40,315.85 L386.65,315.99 L386.90,316.32 L387.15,316.70 L387.40,316.85 L387.65,316.79 L387.90,316.66 L388.15,316.44 L388.40,316.10 L388.65,315.63 L388.90,315.08 L389.15,314.53 L389.40,314.02 L389.65,313.53 L389.90,313.33 L390.15,313.53 L390.40,314.09 L390.65,314.88 L390.90,315.69 L391.15,316.31 L391.40,316.59 L391.65,316.75 M393.15,316.88 L393.40,316.70 L393.65,316.49 L393.90,316.34 L394.15,316.33 L394.40,316.45 L394.65,316.66 L394.90,316.86 M396.90,316.90 L397.15,316.68 L397.40,316.31 L397.65,316.01 L397.90,315.91 L398.15,316.05 L398.40,316.37 L398.65,316.74 M400.65,316.79 L400.90,316.66 L401.15,316.39 L401.40,315.89 L401.65,315.02 L401.90,313.63 L402.15,311.53 L402.40,308.64 L402.65,304.96 L402.90,300.68 L403.15,296.20 L403.40,292.09 L403.65,288.96 L403.90,287.33 L404.15,287.49 L404.40,289.37 L404.65,292.57 L404.90,296.45 L405.15,300.18 L405.40,302.93 L405.65,303.92 L405.90,302.41 L406.15,297.82 L406.40,289.77 L406.65,278.27 L406.90,263.89 L407.15,247.91 L407.40,232.28 L407.65,219.26 L407.90,211.02 L408.15,209.03 L408.40,213.65 L408.65,224.06 L408.90,238.48 L409.15,254.67 L409.40,270.51 L409.65,284.41 L409.90,295.53 L410.15,303.69 L410.40,309.23 L410.65,312.72 L410.90,314.76 L411.15,315.87 L411.40,316.43 L411.65,316.70 L411.90,316.82 M424.40,316.79 L424.65,316.68 L424.90,316.49 L425.15,316.22 L425.40,315.84 L425.65,315.38 L425.90,314.88 L426.15,314.41 L426.40,314.06 L426.65,313.90 L426.90,313.97 L427.15,314.25 L427.40,314.68 L427.65,315.18 L427.90,315.67 L428.15,316.08 L428.40,316.40 L428.65,316.61 L428.90,316.75 M437.65,316.81 L437.90,316.70 L438.15,316.47 L438.40,316.05 L438.65,315.32 L438.90,314.14 L439.15,312.38 L439.40,309.95 L439.65,306.85 L439.90,303.25 L440.15,299.48 L440.40,296.02 L440.65,293.38 L440.90,292.02 L441.15,292.17 L441.40,293.79 L441.65,296.57 L441.90,300.00 L442.15,303.47 L442.40,306.38 L442.65,308.16 L442.90,308.29 L443.15,306.27 L443.40,301.64 L443.65,294.01 L443.90,283.28 L444.15,269.84 L444.40,254.71 L444.65,239.57 L444.90,226.52 L445.15,217.65 L445.40,214.50 L445.65,217.65 L445.90,226.53 L446.15,239.60 L446.40,254.79 L446.65,270.02 L446.90,283.66 L447.15,294.75 L447.40,303.04 L447.65,308.75 L447.90,312.40 L448.15,314.57 L448.40,315.76 L448.65,316.38 L448.90,316.68 L449.15,316.81 M450.15,316.83 L450.40,316.63 L450.65,316.44 L450.90,316.34 L451.15,316.38 L451.40,316.54 L451.65,316.75 M453.90,316.86 L454.15,316.56 L454.40,316.20 L454.65,315.97 L454.90,315.96 L455.15,316.17 L455.40,316.52 L455.65,316.84 M457.90,316.72 L458.15,316.45 L458.40,316.23 L458.65,316.16 L458.90,316.28 L459.15,316.52 L459.40,316.79 M461.65,316.83 L461.90,316.65 L462.15,316.48 L462.40,316.40 L462.65,316.43 L462.90,316.58 L463.15,316.77 M465.40,316.86 L465.65,316.56 L465.90,316.23 L466.15,316.01 L466.40,316.01 L466.65,316.22 L466.90,316.55 L467.15,316.85 M469.40,316.73 L469.65,316.47 L469.90,316.27 L470.15,316.90 M532.65,316.81 L532.90,316.50 L533.15,315.56 L533.40,313.61 L533.65,310.99 L533.90,309.10 L534.15,309.33 L534.40,311.51 L534.65,314.08 L534.90,315.82 L535.15,316.59 L535.40,316.84 M583.90,316.79 L584.15,316.62 L584.40,316.32 L584.65,315.96 L584.90,315.72 L585.15,315.75 L585.40,316.03 L585.65,316.38 L585.90,316.66 L586.15,316.81 M609.65,316.77 L609.90,316.57 L610.15,316.24 L610.40,315.90 L610.65,315.71 L610.90,315.79 L611.15,316.10 L611.40,316.45 L611.65,316.70 L611.90,316.83" fill="none" stroke="#40c440" stroke-width="0.85" stroke-linejoin="round"/>
<rect x="37" y="316.34999999999997" width="690.0" height="1.15" fill="#858585"/>
<rect x="147.2" y="316.9" width="1" height="3" fill="#62d062"/><rect x="139.0" y="319.7" width="17.4" height="7.3" rx="0.9" fill="#fff" stroke="#62d062" stroke-width="1.0"/><text x="147.7" y="325.2" text-anchor="middle" font-family="Liberation Sans, Arial, sans-serif" font-size="5" fill="#222">110.07</text>
<rect x="287.9" y="316.9" width="1" height="3" fill="#62d062"/><rect x="279.7" y="319.7" width="17.4" height="7.3" rx="0.9" fill="#fff" stroke="#62d062" stroke-width="1.0"/><text x="288.4" y="325.2" text-anchor="middle" font-family="Liberation Sans, Arial, sans-serif" font-size="5" fill="#222">153.34</text>
<rect x="407.8" y="316.9" width="1" height="3" fill="#62d062"/><rect x="399.6" y="319.7" width="17.4" height="7.3" rx="0.9" fill="#fff" stroke="#62d062" stroke-width="1.0"/><text x="408.3" y="325.2" text-anchor="middle" font-family="Liberation Sans, Arial, sans-serif" font-size="5" fill="#222">186.73</text>
<rect x="445.2" y="316.9" width="1" height="3" fill="#62d062"/><rect x="437.0" y="319.7" width="17.4" height="7.3" rx="0.9" fill="#fff" stroke="#62d062" stroke-width="1.0"/><text x="445.7" y="325.2" text-anchor="middle" font-family="Liberation Sans, Arial, sans-serif" font-size="5" fill="#222">196.43</text>
<rect x="4" y="334.8" width="723.0" height="1" fill="#b0b0b0"/>
<rect x="4" y="336" width="723.0" height="12" fill="#f0f0f0"/><text x="6" y="341.6" font-family="Liberation Sans, Arial, sans-serif" font-size="5.8" fill="#222" stroke="#222" stroke-width="0.12">M19-11060</text><text x="88" y="341.6" font-family="Liberation Sans, Arial, sans-serif" font-size="5.8" fill="#222" stroke="#222" stroke-width="0.12">MR-MSI-3</text><rect x="85.1" y="336" width="0.8" height="12" fill="#b8b8b8"/><rect x="152.0" y="336" width="0.8" height="12" fill="#b8b8b8"/><rect x="169.4" y="336" width="0.8" height="12" fill="#c4c4c4"/><rect x="170.4" y="336" width="17.8" height="11.1" fill="#fff" stroke="#c8c8c8" stroke-width="0.6"/><rect x="189.6" y="336" width="20.7" height="11.1" fill="#fff" stroke="#c8c8c8" stroke-width="0.6"/><rect x="211.5" y="336" width="20.5" height="11.1" fill="#fff" stroke="#c8c8c8" stroke-width="0.6"/><rect x="233.7" y="336" width="20.2" height="11.1" fill="#fff" stroke="#c8c8c8" stroke-width="0.6"/><rect x="255.2" y="336" width="20.8" height="11.1" fill="#fff" stroke="#c8c8c8" stroke-width="0.6"/><rect x="277.4" y="336" width="17.3" height="11.1" fill="#fff" stroke="#c8c8c8" stroke-width="0.6"/><path d="M175.35000000000002,337.90000000000003 Q175.8,337.25 176.25,337.90000000000003 Q177.70000000000002,341.6 179.55,344.0 Q179.75,344.8 178.9,344.8 L172.70000000000002,344.8 Q171.85000000000002,344.8 172.05,344.0 Q173.9,341.6 175.35000000000002,337.90000000000003 Z" fill="url(#tg)" stroke="#4c4c4c" stroke-width="0.35"/><rect x="191.55" y="337.45" width="7.0" height="7.25" rx="0.9" fill="url(#gg)" stroke="#1a9a1a" stroke-width="0.8"/><path d="M216.45000000000002,337.90000000000003 Q216.9,337.25 217.35,337.90000000000003 Q218.8,341.6 220.65,344.0 Q220.85,344.8 220.0,344.8 L213.8,344.8 Q212.95000000000002,344.8 213.15,344.0 Q215.0,341.6 216.45000000000002,337.90000000000003 Z" fill="url(#tg)" stroke="#4c4c4c" stroke-width="0.35"/><path d="M238.45000000000002,337.90000000000003 Q238.9,337.25 239.35,337.90000000000003 Q240.8,341.6 242.65,344.0 Q242.85,344.8 242.0,344.8 L235.8,344.8 Q234.95000000000002,344.8 235.15,344.0 Q237.0,341.6 238.45000000000002,337.90000000000003 Z" fill="url(#tg)" stroke="#4c4c4c" stroke-width="0.35"/><path d="M260.55,337.90000000000003 Q261.0,337.25 261.45,337.90000000000003 Q262.9,341.6 264.75,344.0 Q264.95,344.8 264.1,344.8 L257.9,344.8 Q257.05,344.8 257.25,344.0 Q259.1,341.6 260.55,337.90000000000003 Z" fill="url(#tg)" stroke="#4c4c4c" stroke-width="0.35"/><circle cx="282.9" cy="340.9" r="4.0" fill="url(#cg)" stroke="#4e4e4e" stroke-width="1.1"/>
<rect x="94.3" y="350.3" width="35.0" height="6.4" fill="#fb3238" stroke="#8e2020" stroke-width="0.8"/><text x="95.1" y="355.35" font-family="Liberation Sans, Arial, sans-serif" font-size="5.95" font-weight="bold" fill="#000" stroke="#000" stroke-width="0.1" textLength="15.3" lengthAdjust="spacingAndGlyphs">Amel</text>
<rect x="148.0" y="350.3" width="76.6" height="6.4" fill="#9b9b9b" stroke="#5a5a5a" stroke-width="0.8"/><text x="148.8" y="355.35" font-family="Liberation Sans, Arial, sans-serif" font-size="5.95" font-weight="bold" fill="#000" stroke="#000" stroke-width="0.1" textLength="14.3" lengthAdjust="spacingAndGlyphs">NR24</text>
<rect x="286.0" y="350.3" width="84.7" height="6.4" fill="#9b9b9b" stroke="#5a5a5a" stroke-width="0.8"/><text x="286.8" y="355.35" font-family="Liberation Sans, Arial, sans-serif" font-size="5.95" font-weight="bold" fill="#000" stroke="#000" stroke-width="0.1" textLength="22.7" lengthAdjust="spacingAndGlyphs">Mono27</text>
<rect x="37" y="366.1" width="690.0" height="1" fill="#555"/><rect x="36.5" y="365.6" width="1.8" height="2" fill="#444"/><text x="37.4" y="363.7" text-anchor="middle" font-family="Liberation Sans, Arial, sans-serif" font-size="5" fill="#222">90</text><rect x="189.8" y="365.6" width="1.8" height="2" fill="#444"/><text x="190.7" y="363.7" text-anchor="middle" font-family="Liberation Sans, Arial, sans-serif" font-size="5" fill="#222">130</text><rect x="343.1" y="365.6" width="1.8" height="2" fill="#444"/><text x="344.6" y="363.7" text-anchor="middle" font-family="Liberation Sans, Arial, sans-serif" font-size="5" fill="#222">170</text><rect x="496.5" y="365.6" width="1.8" height="2" fill="#444"/><text x="497.4" y="363.7" text-anchor="middle" font-family="Liberation Sans, Arial, sans-serif" font-size="5" fill="#222">210</text><rect x="649.8" y="365.6" width="1.8" height="2" fill="#444"/><text x="650.7" y="363.7" text-anchor="middle" font-family="Liberation Sans, Arial, sans-serif" font-size="5" fill="#222">250</text><rect x="113.4" y="365.8" width="1.4" height="1.6" fill="#444"/><rect x="266.7" y="365.8" width="1.4" height="1.6" fill="#444"/><rect x="420.0" y="365.8" width="1.4" height="1.6" fill="#444"/><rect x="573.3" y="365.8" width="1.4" height="1.6" fill="#444"/>
<rect x="36.65" y="366.6" width="0.95" height="108.29999999999995" fill="#5e5e5e"/><rect x="35.75" y="474.25" width="2.8" height="1.3" fill="#4a4a4a"/><text x="34.2" y="476.7" text-anchor="end" font-family="Liberation Sans, Arial, sans-serif" font-size="5" fill="#222">0</text><rect x="36.1" y="465.62" width="2.1" height="1.1" fill="#4a4a4a"/><rect x="35.75" y="456.80" width="2.8" height="1.3" fill="#4a4a4a"/><text x="34.2" y="459.2" text-anchor="end" font-family="Liberation Sans, Arial, sans-serif" font-size="5" fill="#222">4000</text><rect x="36.1" y="448.17" width="2.1" height="1.1" fill="#4a4a4a"/><rect x="35.75" y="439.35" width="2.8" height="1.3" fill="#4a4a4a"/><text x="34.2" y="441.8" text-anchor="end" font-family="Liberation Sans, Arial, sans-serif" font-size="5" fill="#222">8000</text><rect x="36.1" y="430.72" width="2.1" height="1.1" fill="#4a4a4a"/><rect x="35.75" y="421.90" width="2.8" height="1.3" fill="#4a4a4a"/><text x="34.2" y="424.3" text-anchor="end" font-family="Liberation Sans, Arial, sans-serif" font-size="5" fill="#222">12000</text><rect x="36.1" y="413.27" width="2.1" height="1.1" fill="#4a4a4a"/><rect x="35.75" y="404.45" width="2.8" height="1.3" fill="#4a4a4a"/><text x="34.2" y="406.9" text-anchor="end" font-family="Liberation Sans, Arial, sans-serif" font-size="5" fill="#222">16000</text><rect x="36.1" y="395.82" width="2.1" height="1.1" fill="#4a4a4a"/><rect x="35.75" y="387.00" width="2.8" height="1.3" fill="#4a4a4a"/><text x="34.2" y="389.4" text-anchor="end" font-family="Liberation Sans, Arial, sans-serif" font-size="5" fill="#222">20000</text><rect x="36.1" y="378.37" width="2.1" height="1.1" fill="#4a4a4a"/><rect x="35.75" y="369.55" width="2.8" height="1.3" fill="#4a4a4a"/><text x="34.2" y="372.0" text-anchor="end" font-family="Liberation Sans, Arial, sans-serif" font-size="5" fill="#222">24000</text>
<path d="M37.65,474.77 L37.90,474.71 L38.15,474.63 L38.40,474.53 L38.65,474.39 L38.90,474.21 L39.15,473.98 L39.40,473.70 L39.65,473.35 L39.90,472.93 L40.15,472.44 L40.40,471.87 L40.65,471.23 L40.90,470.52 L41.15,469.75 L41.40,468.95 L41.65,468.12 L41.90,467.30 L42.15,466.52 L42.40,465.80 L42.65,465.16 L42.90,464.65 L43.15,464.27 L43.40,464.05 L43.65,464.00 L43.90,464.12 L44.15,464.40 L44.40,464.84 L44.65,465.40 L44.90,466.08 L45.15,466.83 L45.40,467.63 L45.65,468.45 L45.90,469.27 L46.15,470.06 L46.40,470.81 L46.65,471.49 L46.90,472.11 L47.15,472.64 L47.40,473.11 L47.65,473.50 L47.90,473.82 L48.15,474.08 L48.40,474.29 L48.65,474.45 L48.90,474.57 L49.15,474.67 L49.40,474.74 M60.15,474.77 L60.40,474.38 L60.65,474.01 L60.90,473.82 L61.15,473.89 L61.40,474.20 L61.65,474.60 L61.90,474.90 M63.90,474.87 L64.15,474.61 L64.40,474.30 L64.65,474.10 L64.90,474.09 L65.15,474.28 L65.40,474.57 L65.65,474.85 M67.90,474.76 L68.15,474.55 L68.40,474.38 L68.65,474.33 L68.90,474.42 L69.15,474.61 L69.40,474.81 M71.65,474.76 L71.90,474.39 L72.15,474.05 L72.40,473.88 L72.65,473.95 L72.90,474.25 L73.15,474.63 L73.40,474.90 M75.40,474.86 L75.65,474.62 L75.90,474.33 L76.15,474.16 L76.40,474.15 L76.65,474.33 L76.90,474.61 L77.15,474.86 M79.40,474.77 L79.65,474.58 L79.90,474.43 L80.15,474.39 L80.40,474.47 L80.65,474.64 L80.90,474.83 M81.65,474.80 L81.90,474.65 L82.15,474.37 L82.40,473.86 L82.65,473.05 L82.90,471.91 L83.15,470.38 L83.40,468.60 L83.65,467.09 L83.90,466.29 L84.15,467.33 L84.40,468.10 L84.65,469.36 L84.90,470.81 L85.15,472.16 L85.40,473.23 L85.65,473.98 L85.90,474.44 L86.15,474.69 L86.40,474.81 M93.40,474.81 L93.65,474.71 L93.90,474.53 L94.15,474.22 L94.40,473.71 L94.65,472.91 L94.90,471.75 L95.15,470.16 L95.40,468.13 L95.65,465.72 L95.90,463.07 L96.15,460.43 L96.40,458.09 L96.65,456.36 L96.90,455.47 L97.15,455.55 L97.40,456.57 L97.65,458.34 L97.90,460.53 L98.15,462.72 L98.40,464.42 L98.65,465.10 L98.90,464.23 L99.15,461.24 L99.40,455.66 L99.65,447.15 L99.90,435.73 L100.15,421.90 L100.40,406.75 L100.65,391.91 L100.90,379.33 L101.15,370.87 L101.40,367.89 L101.65,370.89 L101.90,379.37 L102.15,391.99 L102.40,406.91 L102.65,422.22 L102.90,436.33 L103.15,448.22 L103.40,457.46 L103.65,464.13 L103.90,468.61 L104.15,471.43 L104.40,473.09 L104.65,474.01 L104.90,474.49 L105.15,474.72 L105.40,474.82 M111.90,474.90 L112.15,474.68 L112.40,474.08 L112.65,473.66 L112.90,473.71 L113.15,474.20 L113.40,474.78 M114.90,474.90 L115.15,474.52 L115.40,473.49 L115.65,472.76 L115.90,472.85 L116.15,473.69 L116.40,474.69 L116.65,474.90 M117.90,474.90 L118.15,474.61 L118.40,473.82 L118.65,473.27 L118.90,473.33 L119.15,473.98 L119.40,474.74 M120.90,474.90 L121.15,474.70 L121.40,474.15 L121.65,473.77 L121.90,473.82 L122.15,474.26 L122.40,474.79 M123.90,474.90 L124.15,474.54 L124.40,473.56 L124.65,472.88 L124.90,472.96 L125.15,473.76 L125.40,474.70 L125.65,474.90 M126.90,474.90 L127.15,474.63 L127.40,473.89 L127.65,473.38 L127.90,473.44 L128.15,474.04 L128.40,474.75 M129.90,474.90 L130.15,474.72 L130.40,474.23 L130.65,473.88 L130.90,473.93 L131.15,474.33 L131.40,474.80 M132.90,474.90 L133.15,474.56 L133.40,473.64 L133.65,472.99 L133.90,473.07 L134.15,473.82 L134.40,474.71 L134.65,474.90 M135.90,474.90 L136.15,474.65 L136.40,473.97 L136.65,473.50 L136.90,473.55 L137.15,474.11 L137.40,474.76 M138.90,474.90 L139.15,474.49 L139.40,473.38 L139.65,472.61 L139.90,472.70 L140.15,473.60 L140.40,474.68 L140.65,474.90 M141.90,474.90 L142.15,474.58 L142.40,473.71 L142.65,473.11 L142.90,473.18 L143.15,473.89 L143.40,474.72 M144.90,474.90 L145.15,474.67 L145.40,474.05 L145.65,473.61 L145.90,473.67 L146.15,474.17 L146.40,474.77 M147.90,474.90 L148.15,474.51 L148.40,473.46 L148.65,472.72 L148.90,472.81 L149.15,473.67 L149.40,474.69 L149.65,474.90 M150.90,474.90 L151.15,474.60 L151.40,473.79 L151.65,473.22 L151.90,473.29 L152.15,473.95 L152.40,474.74 M188.40,474.79 L188.65,474.66 L188.90,474.42 L189.15,474.01 L189.40,473.37 L189.65,472.43 L189.90,471.18 L190.15,469.68 L190.40,468.06 L190.65,466.54 L190.90,465.36 L191.15,464.74 L191.40,464.77 L191.65,465.44 L191.90,466.54 L192.15,467.77 L192.40,468.78 L192.65,469.20 L192.90,468.74 L193.15,467.22 L193.40,464.64 L193.65,461.18 L193.90,457.27 L194.15,453.50 L194.40,450.55 L194.65,448.99 L194.90,449.13 L195.15,450.89 L195.40,453.84 L195.65,457.26 L195.90,460.34 L196.15,462.30 L196.40,462.54 L196.65,460.73 L196.90,456.86 L197.15,451.32 L197.40,444.88 L197.65,438.61 L197.90,433.67 L198.15,431.07 L198.40,431.35 L198.65,434.43 L198.90,439.63 L199.15,445.84 L199.40,451.83 L199.65,456.48 L199.90,459.01 L200.15,459.02 L200.40,456.56 L200.65,452.12 L200.90,446.53 L201.15,440.90 L201.40,436.41 L201.65,434.05 L201.90,434.36 L202.15,437.31 L202.40,442.33 L202.65,448.45 L202.90,454.66 L203.15,460.07 L203.40,464.12 L203.65,466.59 L203.90,467.58 L204.15,467.38 L204.40,466.42 L204.65,465.17 L204.90,464.08 L205.15,463.50 L205.40,463.62 L205.65,464.46 L205.90,465.88 L206.15,467.62 L206.40,469.42 L206.65,471.05 L206.90,472.38 L207.15,473.36 L207.40,474.02 L207.65,474.43 L207.90,474.67 L208.15,474.79 M210.15,474.81 L210.40,474.54 L210.65,474.28 L210.90,474.15 L211.15,474.20 L211.40,474.41 L211.65,474.69 L211.90,474.90 M213.90,474.88 L214.15,474.69 L214.40,474.48 L214.65,474.34 L214.90,474.33 L215.15,474.46 L215.40,474.67 L215.65,474.86 M217.90,474.80 L218.15,474.65 L218.40,474.53 L218.65,474.49 L218.90,474.55 L219.15,474.69 L219.40,474.84 M221.65,474.81 L221.90,474.55 L222.15,474.31 L222.40,474.19 L222.65,474.24 L222.90,474.45 L223.15,474.71 L223.40,474.90 M225.40,474.87 L225.65,474.70 L225.90,474.50 L226.15,474.37 L226.40,474.37 L226.65,474.50 L226.90,474.70 L227.15,474.87 M229.40,474.81 L229.65,474.67 L229.90,474.56 L230.15,474.53 L230.40,474.59 L230.65,474.72 L230.90,474.85 M233.15,474.80 L233.40,474.56 L233.65,474.33 L233.90,474.23 L234.15,474.28 L234.40,474.48 L234.65,474.73 M286.90,474.81 L287.15,474.59 L287.40,474.03 L287.65,473.01 L287.90,471.70 L288.15,470.69 L288.40,470.59 L288.65,471.46 L288.90,472.76 L289.15,473.86 L289.40,474.51 L289.65,474.79 M330.15,474.81 L330.40,474.53 L330.65,474.26 L330.90,474.12 L331.15,474.17 L331.40,474.39 L331.65,474.69 L331.90,474.90 M333.90,474.88 L334.15,474.70 L334.40,474.49 L334.65,474.34 L334.90,474.31 L335.15,474.38 L335.40,474.49 L335.65,474.54 L335.90,474.39 L336.15,474.16 L336.40,473.91 L336.65,473.67 L336.90,473.49 L337.15,473.40 L337.40,473.42 L337.65,473.54 L337.90,473.50 L338.15,473.33 L338.40,473.19 L338.65,473.12 L338.90,473.14 L339.15,473.14 L339.40,473.01 L339.65,472.54 L339.90,471.90 L340.15,471.34 L340.40,470.98 L340.65,470.90 L340.90,471.10 L341.15,471.52 L341.40,472.05 L341.65,472.51 L341.90,472.75 L342.15,472.62 L342.40,472.03 L342.65,470.97 L342.90,469.50 L343.15,467.83 L343.40,466.22 L343.65,464.99 L343.90,464.41 L344.15,464.60 L344.40,465.50 L344.65,466.88 L344.90,468.38 L345.15,469.64 L345.40,470.33 L345.65,470.21 L345.90,469.20 L346.15,467.37 L346.40,464.96 L346.65,462.38 L346.90,460.13 L347.15,458.70 L347.40,458.42 L347.65,459.35 L347.90,461.25 L348.15,463.66 L348.40,466.04 L348.65,467.85 L348.90,468.73 L349.15,468.45 L349.40,467.03 L349.65,464.68 L349.90,461.82 L350.15,459.01 L350.40,456.87 L350.65,455.90 L350.90,456.33 L351.15,458.07 L351.40,460.71 L351.65,463.69 L351.90,466.43 L352.15,468.48 L352.40,469.56 L352.65,469.63 L352.90,468.79 L353.15,467.32 L353.40,465.59 L353.65,464.05 L353.90,463.08 L354.15,462.93 L354.40,463.67 L354.65,465.14 L354.90,467.03 L355.15,469.00 L355.40,470.75 L355.65,472.11 L355.90,473.01 L356.15,473.50 L356.40,473.66 L356.65,473.61 L356.90,473.48 L357.15,473.35 L357.40,473.29 L357.65,473.34 L357.90,473.49 L358.15,473.71 L358.40,473.96 L358.65,474.17 L358.90,474.32 L359.15,474.38 L359.40,474.34 L359.65,474.21 L359.90,474.02 L360.15,473.81 L360.40,473.63 L360.65,473.52 L360.90,473.50 L361.15,473.59 L361.40,473.76 L361.65,473.97 L361.90,474.17 L362.15,474.33 L362.40,474.41 L362.65,474.40 L362.90,474.30 L363.15,474.13 L363.40,473.92 L363.65,473.71 L363.90,473.56 L364.15,473.50 L364.40,473.54 L364.65,473.67 L364.90,473.87 L365.15,474.09 L365.40,474.28 L365.65,474.42 L365.90,474.49 L366.15,474.47 L366.40,474.39 L366.65,474.26 L366.90,474.12 L367.15,473.99 L367.40,473.91 L367.65,473.91 L367.90,473.97 L368.15,474.10 L368.40,474.26 L368.65,474.43 L368.90,474.58 L369.15,474.69 L369.40,474.78 M395.15,474.79 L395.40,474.46 L395.65,474.14 L395.90,473.98 L396.15,474.04 L396.40,474.30 L396.65,474.65 L396.90,474.90 M398.90,474.87 L399.15,474.65 L399.40,474.40 L399.65,474.23 L399.90,474.22 L400.15,474.37 L400.40,474.63 L400.65,474.86 M402.90,474.79 L403.15,474.62 L403.40,474.48 L403.65,474.43 L403.90,474.51 L404.15,474.66 L404.40,474.83 M406.40,474.85 L406.65,474.70 L406.90,474.22 L407.15,473.08 L407.40,471.15 L407.65,468.87 L407.90,467.35 L408.15,467.54 L408.40,469.31 L408.65,471.59 L408.90,473.38 L409.15,474.35 L409.40,474.75 M432.40,474.74 L432.65,474.71 L432.90,474.68 L433.15,474.65 L433.40,474.61 L433.65,474.56 L433.90,474.51 L434.15,474.46 L434.40,474.40 L434.65,474.33 L434.90,474.26 L435.15,474.18 L435.40,474.10 L435.65,474.02 L435.90,473.93 L436.15,473.84 L436.40,473.74 L436.65,473.64 L436.90,473.54 L437.15,473.45 L437.40,473.35 L437.65,473.25 L437.90,473.15 L438.15,473.06 L438.40,472.98 L438.65,472.90 L438.90,472.83 L439.15,472.76 L439.40,472.71 L439.65,472.67 L439.90,472.63 L440.15,472.61 L440.40,472.60 L440.65,472.60 L440.90,472.61 L441.15,472.64 L441.40,472.67 L441.65,472.72 L441.90,472.78 L442.15,472.84 L442.40,472.92 L442.65,473.00 L442.90,473.08 L443.15,473.17 L443.40,473.27 L443.65,473.37 L443.90,473.46 L444.15,473.55 L444.40,473.60 L444.65,473.54 L444.90,473.30 L445.15,472.86 L445.40,472.37 L445.65,472.13 L445.90,472.35 L446.15,472.94 L446.40,473.59 L446.65,474.08 L446.90,474.36 L447.15,474.49 L447.40,474.56 L447.65,474.61 L447.90,474.65 L448.15,474.69 L448.40,474.72 L448.65,474.75 M459.40,474.72 L459.65,474.67 L459.90,474.60 L460.15,474.53 L460.40,474.45 L460.65,474.37 L460.90,474.29 L461.15,474.22 L461.40,474.16 L461.65,474.12 L461.90,474.10 L462.15,474.10 L462.40,474.13 L462.65,474.17 L462.90,474.23 L463.15,474.30 L463.40,474.38 L463.65,474.46 L463.90,474.54 L464.15,474.61 L464.40,474.68 L464.65,474.73 M529.90,474.82 L530.15,474.71 L530.40,474.51 L530.65,474.23 L530.90,473.94 L531.15,473.74 L531.40,473.72 L531.65,473.89 L531.90,474.17 L532.15,474.46 L532.40,474.68 L532.65,474.80 M609.90,474.82 L610.15,474.71 L610.40,474.51 L610.65,474.23 L610.90,473.94 L611.15,473.74 L611.40,473.72 L611.65,473.89 L611.90,474.17 L612.15,474.46 L612.40,474.68 L612.65,474.80" fill="none" stroke="#363636" stroke-width="0.85" stroke-linejoin="round"/>
<rect x="37" y="474.34999999999997" width="690.0" height="1.15" fill="#858585"/>
<rect x="101.2" y="474.9" width="1" height="3" fill="#5a5a5a"/><rect x="93.0" y="477.7" width="17.4" height="7.3" rx="0.9" fill="#fff" stroke="#5a5a5a" stroke-width="1.0"/><text x="101.7" y="483.2" text-anchor="middle" font-family="Liberation Sans, Arial, sans-serif" font-size="5" fill="#222">106.77</text>
<rect x="197.7" y="474.9" width="1" height="3" fill="#5a5a5a"/><rect x="189.5" y="477.7" width="17.4" height="7.3" rx="0.9" fill="#fff" stroke="#5a5a5a" stroke-width="1.0"/><text x="198.2" y="483.2" text-anchor="middle" font-family="Liberation Sans, Arial, sans-serif" font-size="5" fill="#222">131.99</text>
<rect x="350.8" y="474.9" width="1" height="3" fill="#5a5a5a"/><rect x="342.6" y="477.7" width="17.4" height="7.3" rx="0.9" fill="#fff" stroke="#5a5a5a" stroke-width="1.0"/><text x="351.3" y="483.2" text-anchor="middle" font-family="Liberation Sans, Arial, sans-serif" font-size="5" fill="#222">171.70</text>
<rect x="4" y="493.2" width="723.0" height="0.8" fill="#d8d8d8"/>
</svg>
</body></html>
